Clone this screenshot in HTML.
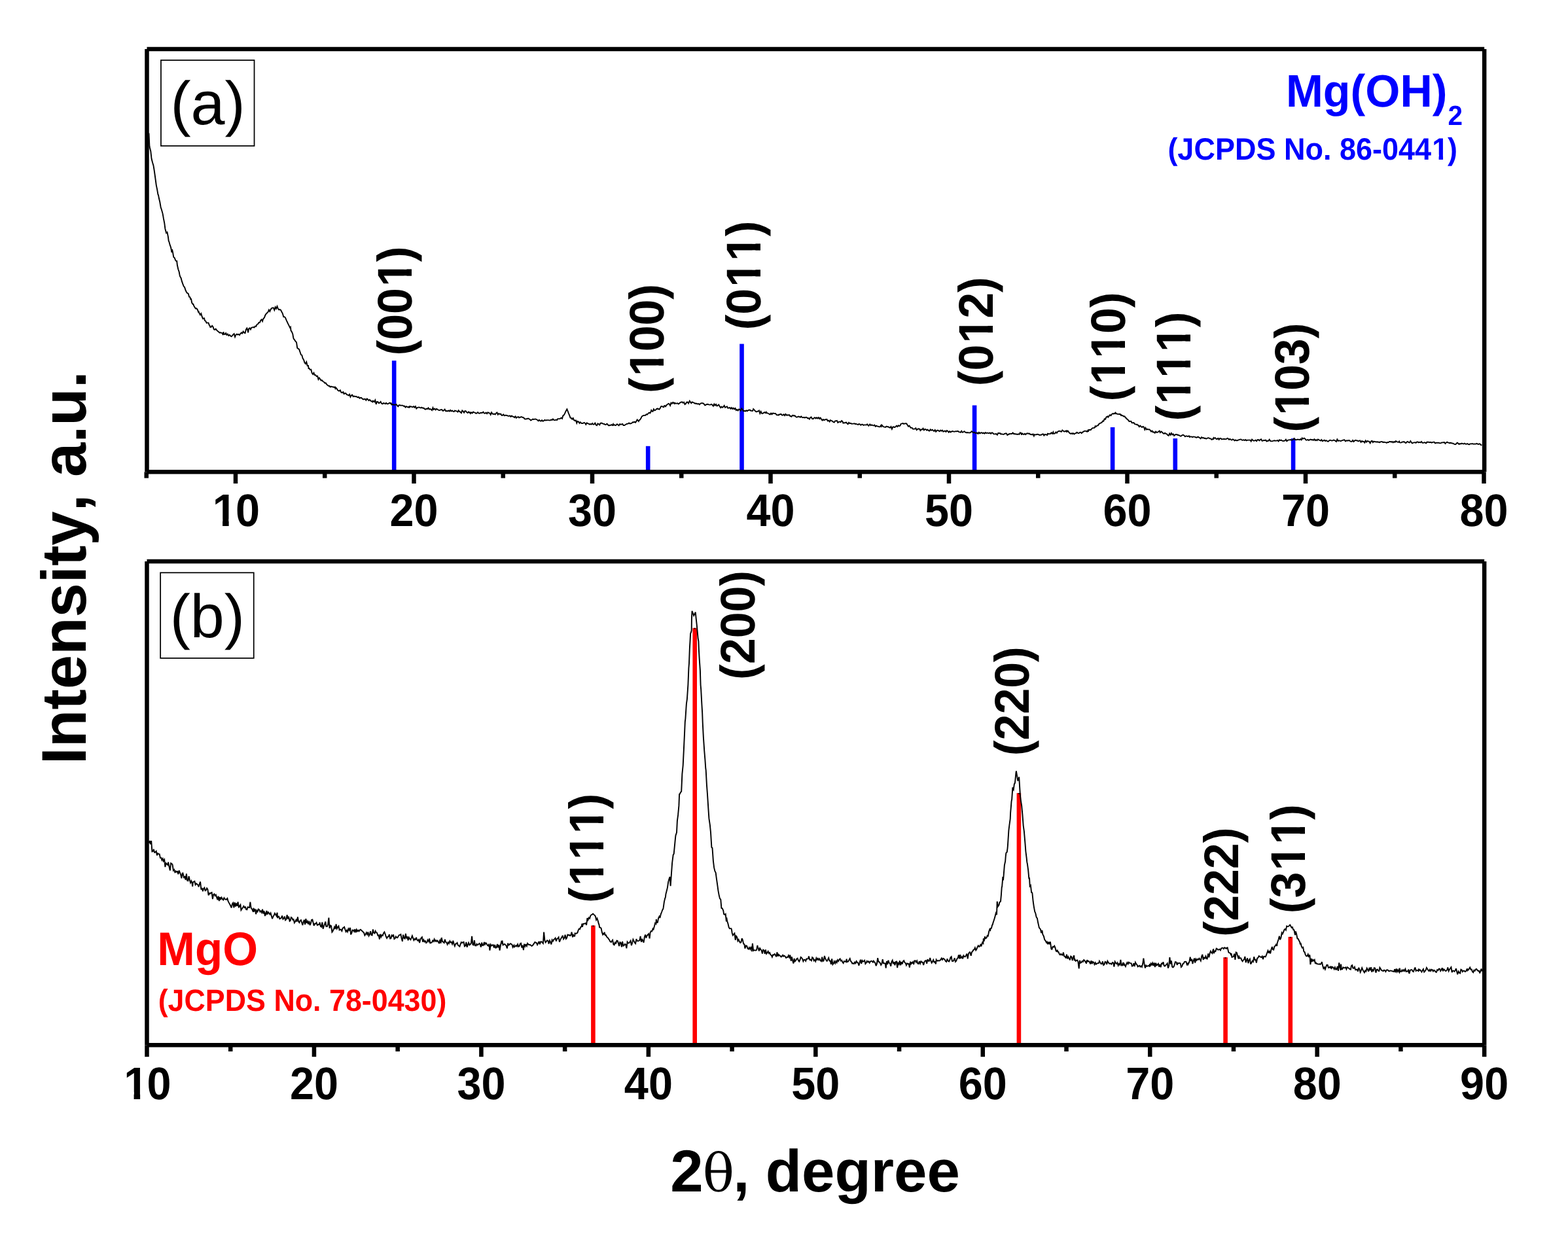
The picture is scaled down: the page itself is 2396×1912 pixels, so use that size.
<!DOCTYPE html><html><head><meta charset="utf-8"><title>XRD patterns</title><style>html,body{margin:0;padding:0;background:#fff;overflow:hidden}svg{display:block}text{font-kerning:none;font-feature-settings:"kern" 0;text-rendering:geometricPrecision}</style></head><body>
<svg width="2396" height="1912" viewBox="0 0 2396 1912">
<rect width="2396" height="1912" fill="#fff"/>
<rect x="598.9" y="551.2" width="6.6" height="170.1" fill="#0000ff"/>
<rect x="986.9" y="681.8" width="6.6" height="39.5" fill="#0000ff"/>
<rect x="1130.2" y="525.6" width="6.6" height="195.7" fill="#0000ff"/>
<rect x="1485.8" y="619.5" width="6.6" height="101.8" fill="#0000ff"/>
<rect x="1696.8" y="653.0" width="6.6" height="68.3" fill="#0000ff"/>
<rect x="1792.5" y="670.1" width="6.6" height="51.2" fill="#0000ff"/>
<rect x="1972.8" y="670.1" width="6.6" height="51.2" fill="#0000ff"/>
<rect x="903.1" y="1414.5" width="6.6" height="182.8" fill="#ff0000"/>
<rect x="905.2" y="1414.5" width="2.4" height="1.6" fill="#000"/>
<rect x="1058.4" y="959.8" width="6.6" height="637.5" fill="#ff0000"/>
<rect x="1060.5" y="959.8" width="2.4" height="1.6" fill="#000"/>
<rect x="1553.6" y="1212.1" width="6.6" height="385.2" fill="#ff0000"/>
<rect x="1555.7" y="1212.1" width="2.4" height="1.6" fill="#000"/>
<rect x="1869.3" y="1463.2" width="6.6" height="134.1" fill="#ff0000"/>
<rect x="1871.4" y="1463.2" width="2.4" height="1.6" fill="#000"/>
<rect x="1968.5" y="1431.9" width="6.6" height="165.4" fill="#ff0000"/>
<rect x="1970.6" y="1431.9" width="2.4" height="1.6" fill="#000"/>
<path d="M227.5,203.5 L228.4,223.2 L228.9,225.5 L230.3,231.2 L231.5,242.3 L233.1,248.6 L234.5,253.2 L235.7,260.5 L237.3,272.0 L238.8,283.1 L240.1,289.4 L241.5,297.6 L242.0,298.0 L242.9,303.1 L244.3,308.8 L245.7,317.0 L246.2,318.3 L247.1,321.3 L248.5,326.1 L249.3,330.3 L249.9,334.0 L251.3,341.1 L252.4,349.7 L254.1,356.0 L255.5,354.9 L256.9,361.9 L257.7,368.1 L258.3,369.3 L259.7,374.4 L261.1,378.3 L262.5,385.7 L262.9,381.0 L263.9,384.9 L265.3,392.9 L266.7,394.0 L268.1,397.7 L269.5,399.2 L270.2,399.0 L270.9,405.3 L272.3,411.5 L273.7,415.5 L274.4,419.5 L275.1,422.4 L276.5,424.7 L277.9,429.9 L279.3,433.9 L280.7,437.6 L282.1,439.1 L283.5,443.5 L284.9,446.5 L286.3,448.1 L287.7,448.7 L289.1,453.8 L290.5,454.2 L291.2,457.7 L291.9,456.3 L293.3,463.0 L294.7,465.0 L295.4,464.8 L296.1,467.2 L297.5,469.5 L298.9,471.7 L300.3,471.4 L301.7,473.0 L303.1,476.9 L303.7,476.5 L304.5,478.7 L305.9,481.2 L307.3,479.1 L308.7,483.9 L310.1,487.2 L311.5,486.5 L312.1,486.4 L312.9,489.9 L314.3,490.8 L315.7,493.6 L317.1,493.4 L318.5,493.4 L319.9,497.3 L320.5,497.5 L321.3,499.9 L322.7,499.8 L324.1,497.8 L325.5,499.4 L326.9,503.4 L328.3,503.9 L329.7,502.7 L331.0,504.5 L332.5,506.1 L333.9,506.9 L335.3,508.4 L336.7,508.3 L338.1,508.6 L339.5,509.2 L340.9,512.0 L341.4,507.3 L342.3,510.6 L343.7,511.1 L345.1,509.1 L346.5,511.9 L347.9,510.6 L349.3,513.1 L350.7,511.8 L352.1,513.2 L353.5,514.3 L354.9,513.2 L356.1,511.5 L357.7,510.2 L359.1,514.9 L360.5,511.7 L361.9,510.6 L363.3,511.6 L364.7,510.8 L366.1,512.1 L366.5,510.8 L367.5,510.2 L368.9,508.4 L370.3,509.5 L371.7,506.6 L373.1,508.5 L374.5,509.1 L375.9,503.7 L377.3,501.6 L378.7,505.6 L379.1,508.4 L380.1,502.5 L381.5,501.4 L382.9,503.5 L384.3,500.6 L385.7,500.4 L387.1,500.0 L388.5,500.6 L389.9,498.5 L391.3,498.8 L391.7,497.9 L392.7,495.9 L394.1,495.3 L395.5,492.9 L396.9,493.0 L398.3,489.8 L399.7,488.4 L401.1,491.0 L402.1,487.6 L402.5,487.0 L403.9,485.5 L405.3,481.8 L406.7,479.7 L408.4,478.0 L409.5,477.0 L410.9,473.7 L412.3,476.0 L413.7,472.8 L415.1,471.1 L416.5,470.4 L417.8,470.4 L419.3,473.9 L420.7,469.4 L422.1,471.8 L423.5,468.1 L424.9,471.8 L426.2,473.5 L427.7,473.1 L429.1,473.9 L430.5,476.8 L431.4,478.4 L431.9,479.3 L433.3,484.2 L434.7,484.2 L436.1,485.7 L437.7,489.6 L438.9,492.1 L440.3,495.2 L441.7,497.8 L443.1,500.9 L444.0,499.9 L444.5,505.1 L445.9,507.2 L447.3,510.5 L448.2,515.8 L448.7,517.8 L450.1,519.4 L451.5,521.7 L453.0,523.2 L454.3,532.0 L455.7,532.9 L457.1,533.9 L458.6,538.3 L459.9,542.1 L461.3,542.8 L462.7,547.9 L464.1,549.9 L465.5,554.2 L466.9,556.0 L468.3,553.2 L469.7,559.0 L471.1,558.9 L471.5,563.0 L472.5,563.0 L473.9,565.2 L475.3,564.8 L476.7,570.2 L478.1,572.1 L479.5,569.9 L480.8,573.3 L482.3,573.2 L483.7,575.2 L485.1,574.8 L486.5,579.8 L487.9,577.5 L489.3,579.5 L490.7,581.6 L491.9,581.2 L493.5,583.0 L494.9,583.7 L496.3,585.4 L497.7,585.3 L499.1,587.3 L500.5,588.7 L501.2,589.1 L501.9,589.8 L503.3,589.8 L504.7,591.6 L506.1,590.7 L507.5,591.4 L508.9,591.3 L510.3,591.9 L511.7,591.5 L512.4,593.8 L513.1,592.4 L514.5,593.9 L515.9,596.2 L517.3,597.3 L518.7,597.4 L519.8,596.4 L521.5,599.9 L522.9,600.3 L524.3,599.0 L525.7,602.1 L527.1,601.0 L528.5,601.2 L529.9,603.2 L531.3,603.5 L532.8,604.5 L534.1,602.7 L535.5,606.8 L536.9,604.3 L538.3,603.5 L539.7,606.2 L541.1,605.3 L542.5,606.3 L543.9,605.8 L545.3,606.6 L546.7,607.4 L548.1,606.8 L549.5,608.8 L550.9,608.0 L552.3,608.0 L553.7,609.6 L555.0,610.4 L556.5,610.0 L557.9,609.7 L559.3,611.7 L560.7,609.4 L562.1,610.5 L563.5,612.1 L564.9,610.9 L566.3,612.7 L567.7,613.0 L569.1,614.4 L569.9,612.6 L570.5,613.0 L571.9,614.3 L573.3,611.6 L574.7,617.9 L576.1,614.0 L577.5,614.2 L578.9,616.2 L580.3,615.5 L581.7,613.9 L583.1,616.8 L584.7,617.3 L585.9,616.0 L587.3,616.3 L588.7,617.2 L590.1,615.8 L591.5,617.3 L592.9,617.2 L594.3,616.3 L595.7,615.7 L597.1,617.0 L597.7,616.4 L598.5,618.5 L599.9,617.9 L601.3,618.8 L602.7,618.4 L604.1,618.8 L605.5,618.0 L607.0,619.8 L608.3,621.2 L609.7,619.2 L611.1,619.1 L612.5,619.8 L613.9,619.6 L615.3,619.6 L616.7,620.7 L618.1,620.5 L619.5,622.5 L620.9,621.2 L622.3,621.8 L623.7,622.6 L625.1,621.5 L625.5,623.4 L626.5,621.3 L627.9,621.3 L629.3,621.9 L630.7,622.3 L632.1,621.1 L633.5,622.7 L634.9,621.1 L636.3,624.5 L637.7,623.1 L639.1,622.6 L640.5,622.5 L641.9,623.2 L643.3,623.5 L644.1,622.7 L644.7,622.9 L646.1,623.8 L647.5,623.6 L648.9,625.2 L650.3,625.6 L651.7,624.6 L653.1,625.2 L654.5,623.4 L655.9,625.6 L657.3,625.1 L658.7,625.7 L660.1,627.0 L661.5,623.1 L662.6,625.9 L664.3,624.6 L665.7,626.5 L667.1,624.7 L668.5,625.7 L669.9,626.6 L671.3,627.1 L672.7,626.7 L674.1,626.0 L675.5,626.4 L676.9,628.0 L678.3,627.2 L679.7,625.6 L681.2,628.4 L682.5,628.0 L683.9,628.5 L685.3,627.4 L686.7,628.6 L688.1,626.8 L689.5,628.5 L690.9,627.5 L692.3,628.7 L693.7,629.1 L695.1,627.4 L696.5,628.2 L697.9,628.4 L699.3,629.6 L699.7,629.1 L700.7,627.3 L702.1,629.1 L703.5,629.5 L704.9,631.1 L706.3,627.4 L707.7,628.7 L709.1,630.7 L710.5,628.1 L711.9,628.4 L713.3,630.3 L714.7,631.0 L716.1,629.4 L717.5,630.8 L718.3,630.4 L718.9,631.9 L720.3,630.4 L721.7,631.5 L723.1,629.6 L724.5,630.4 L725.9,630.6 L727.3,631.9 L728.7,631.4 L730.1,630.1 L731.5,631.6 L732.9,631.8 L734.3,631.0 L735.7,630.9 L736.8,631.0 L738.5,629.6 L739.9,631.5 L741.3,631.7 L742.7,630.6 L744.1,632.3 L745.5,630.3 L746.9,631.1 L748.3,631.3 L749.7,633.8 L751.1,630.3 L752.5,632.5 L753.9,633.0 L755.4,632.5 L756.7,633.5 L758.1,631.5 L759.5,630.5 L760.9,633.7 L762.3,632.0 L763.7,633.0 L765.1,632.4 L766.5,634.8 L767.9,634.8 L769.3,633.5 L770.7,635.3 L772.1,634.7 L773.5,634.7 L773.9,635.0 L774.9,634.9 L776.3,635.9 L777.7,635.8 L779.1,635.3 L780.5,636.9 L781.9,635.5 L783.3,636.6 L784.7,636.9 L786.1,638.2 L787.5,636.5 L788.9,638.8 L790.3,637.5 L791.7,637.4 L792.5,637.1 L793.1,638.4 L794.5,638.0 L795.9,637.2 L797.3,637.3 L798.7,638.1 L800.1,638.2 L801.5,640.1 L802.9,640.6 L804.3,640.3 L805.7,640.0 L807.1,639.5 L808.5,640.2 L809.9,641.2 L811.1,642.5 L812.7,641.5 L814.1,640.5 L815.5,641.0 L816.9,640.6 L818.3,640.5 L819.7,641.2 L821.1,641.7 L822.5,643.3 L823.9,641.8 L825.3,643.2 L826.7,643.7 L828.1,642.2 L829.6,643.8 L830.9,643.0 L832.3,641.9 L833.7,642.5 L835.1,642.3 L836.5,642.1 L837.9,642.1 L839.5,642.4 L840.7,642.6 L842.1,641.3 L843.5,642.0 L844.9,640.5 L846.3,642.0 L847.7,642.3 L849.1,641.7 L850.5,641.7 L851.2,642.0 L851.9,640.4 L853.3,640.1 L854.7,640.1 L856.1,639.9 L857.5,638.6 L859.0,639.9 L860.3,635.4 L861.7,634.3 L862.9,632.4 L864.5,628.7 L865.9,626.3 L866.4,625.4 L867.3,627.5 L868.7,631.3 L870.1,634.6 L871.6,638.6 L872.9,638.9 L874.3,640.7 L875.7,639.1 L877.1,642.2 L878.5,642.9 L879.9,642.5 L881.3,646.6 L882.3,644.0 L882.7,644.4 L884.1,644.5 L885.5,646.8 L886.9,645.2 L888.3,646.9 L889.7,647.0 L891.1,646.9 L892.5,645.8 L893.9,646.6 L895.3,648.9 L896.7,646.4 L897.9,647.1 L899.5,647.7 L900.9,648.6 L902.3,648.1 L903.7,648.6 L905.1,647.0 L906.5,648.8 L907.9,648.5 L909.3,646.6 L910.7,649.5 L912.1,650.2 L913.5,647.4 L914.9,648.2 L916.3,649.4 L917.4,646.9 L919.1,646.5 L920.5,647.2 L921.9,647.9 L923.3,648.0 L924.7,649.1 L926.1,648.9 L927.5,647.6 L928.9,649.3 L930.3,650.5 L931.7,650.0 L933.1,649.9 L934.5,649.1 L935.9,650.0 L936.9,648.3 L937.3,649.9 L938.7,649.1 L940.1,650.2 L941.5,649.6 L942.9,648.2 L944.3,649.3 L945.7,650.3 L947.1,648.2 L948.5,648.7 L949.9,648.5 L951.3,647.9 L952.5,650.1 L954.1,650.0 L955.5,649.2 L956.9,648.3 L958.3,647.7 L959.7,647.6 L961.1,646.4 L962.5,647.5 L963.9,647.3 L965.3,646.8 L966.7,645.2 L968.1,645.4 L969.5,644.6 L970.9,645.9 L972.3,643.9 L973.7,641.4 L975.1,643.0 L975.9,644.0 L976.5,642.5 L977.9,641.5 L979.3,639.6 L980.7,636.6 L982.1,635.6 L983.5,635.0 L984.9,634.9 L985.6,634.8 L986.3,634.8 L987.7,633.1 L989.1,633.7 L990.5,631.8 L991.9,630.7 L993.3,631.5 L994.7,629.1 L995.3,627.0 L996.1,628.3 L997.5,628.9 L998.9,625.2 L1000.3,627.3 L1001.7,626.8 L1003.1,625.1 L1004.5,624.5 L1005.1,625.3 L1005.9,624.8 L1007.3,625.8 L1008.7,624.0 L1010.1,621.1 L1011.5,621.0 L1012.9,621.8 L1014.3,622.2 L1014.8,620.3 L1015.7,620.0 L1017.1,621.3 L1018.5,619.0 L1019.9,618.3 L1021.3,616.8 L1022.7,617.4 L1024.1,619.9 L1025.5,615.7 L1026.9,616.9 L1028.3,615.0 L1029.7,616.3 L1030.4,617.0 L1031.1,615.7 L1032.5,616.7 L1033.9,616.6 L1035.3,616.2 L1036.7,617.5 L1038.1,616.4 L1039.5,615.2 L1040.9,614.7 L1042.3,614.4 L1043.7,615.8 L1045.1,614.8 L1046.5,618.1 L1047.9,617.0 L1049.3,614.7 L1050.7,614.5 L1052.1,616.6 L1053.8,612.7 L1054.9,614.4 L1056.3,616.2 L1057.7,614.4 L1059.1,615.1 L1060.5,615.5 L1061.9,616.8 L1063.3,616.5 L1064.7,617.0 L1066.1,617.4 L1067.5,617.1 L1068.9,618.4 L1070.3,616.7 L1071.7,616.2 L1073.3,616.1 L1074.5,616.4 L1075.9,617.7 L1077.3,619.5 L1078.7,618.7 L1080.1,618.0 L1081.5,617.7 L1082.9,618.4 L1084.3,618.6 L1085.7,618.6 L1087.1,617.8 L1088.5,619.0 L1089.9,620.7 L1091.3,617.5 L1092.7,619.6 L1094.1,617.9 L1095.5,620.5 L1096.9,619.8 L1098.3,618.6 L1099.7,621.1 L1101.1,623.1 L1102.5,621.5 L1103.9,622.8 L1105.3,621.8 L1106.7,619.8 L1108.1,622.8 L1109.5,622.0 L1110.9,621.2 L1112.2,623.7 L1113.7,623.5 L1115.1,622.9 L1116.5,624.7 L1117.9,623.1 L1119.3,625.0 L1120.7,623.6 L1122.1,625.4 L1123.5,624.0 L1124.9,627.0 L1126.3,626.0 L1127.7,627.5 L1129.1,625.4 L1130.5,626.1 L1131.7,627.7 L1133.3,624.2 L1134.7,626.0 L1136.1,628.3 L1137.5,627.8 L1138.9,628.5 L1140.3,627.3 L1141.7,628.3 L1143.1,627.2 L1144.5,626.7 L1145.9,626.5 L1147.3,627.8 L1148.7,627.9 L1150.1,628.0 L1151.2,625.1 L1152.9,626.9 L1154.3,628.5 L1155.7,629.5 L1157.1,628.8 L1158.5,628.7 L1159.9,627.4 L1161.3,631.9 L1162.7,629.0 L1164.1,631.9 L1165.5,632.0 L1166.9,630.8 L1168.3,630.1 L1169.7,631.0 L1170.7,629.8 L1171.1,631.3 L1172.5,631.2 L1173.9,632.0 L1175.3,632.6 L1176.7,633.5 L1178.1,631.6 L1179.5,633.2 L1180.9,631.6 L1182.3,631.7 L1183.7,632.1 L1185.1,632.0 L1186.5,634.1 L1187.9,634.2 L1189.3,634.7 L1190.1,633.6 L1190.7,633.9 L1192.1,633.2 L1193.5,632.8 L1194.9,634.5 L1196.3,634.5 L1197.7,633.3 L1199.1,635.1 L1200.5,632.9 L1201.9,634.6 L1203.3,634.3 L1204.7,634.5 L1206.1,634.1 L1207.5,636.2 L1208.9,636.0 L1209.6,636.7 L1210.3,635.7 L1211.7,634.6 L1213.1,635.7 L1214.5,635.1 L1215.9,636.9 L1217.3,637.8 L1218.7,637.2 L1220.1,636.5 L1221.5,636.9 L1222.9,637.7 L1224.3,636.3 L1225.7,638.0 L1227.1,638.3 L1228.5,637.8 L1229.1,638.0 L1229.9,638.6 L1231.3,637.8 L1232.7,637.9 L1234.1,639.5 L1235.5,639.1 L1236.9,640.6 L1238.3,638.1 L1239.7,637.5 L1241.1,640.2 L1242.5,640.3 L1243.9,638.8 L1245.3,638.2 L1246.7,639.6 L1248.1,638.1 L1249.5,639.6 L1250.9,638.0 L1252.3,640.1 L1253.7,638.6 L1255.1,640.6 L1256.5,642.5 L1257.9,641.0 L1259.3,642.2 L1260.7,641.2 L1262.1,641.2 L1263.5,640.8 L1264.9,643.4 L1266.3,642.7 L1267.7,644.5 L1269.0,642.1 L1270.5,643.2 L1271.9,643.6 L1273.3,645.0 L1274.7,645.6 L1276.1,643.5 L1277.5,643.3 L1278.9,642.9 L1280.3,645.9 L1281.7,644.8 L1283.1,644.4 L1284.5,645.2 L1285.9,643.1 L1287.3,644.0 L1288.4,646.6 L1290.1,646.3 L1291.5,646.3 L1292.9,645.4 L1294.3,647.0 L1295.7,648.3 L1297.1,645.8 L1298.5,647.1 L1299.9,646.8 L1301.3,647.7 L1302.7,647.6 L1304.1,647.6 L1305.5,647.2 L1306.9,648.1 L1307.9,647.7 L1308.3,648.1 L1309.7,648.3 L1311.1,649.1 L1312.5,648.1 L1313.9,648.4 L1315.3,649.7 L1316.7,648.7 L1318.1,648.7 L1319.5,649.9 L1320.9,649.4 L1322.3,649.4 L1323.7,649.6 L1325.1,648.4 L1326.5,650.0 L1327.4,650.8 L1327.9,650.2 L1329.3,648.5 L1330.7,650.2 L1332.1,649.3 L1333.5,650.1 L1334.9,650.5 L1336.3,649.5 L1337.7,651.8 L1339.1,650.7 L1340.5,651.6 L1341.9,651.6 L1343.3,652.4 L1344.7,652.4 L1346.1,650.2 L1346.9,651.6 L1347.5,649.7 L1348.9,651.3 L1350.3,652.4 L1351.7,652.6 L1353.1,653.0 L1354.5,651.6 L1355.9,652.3 L1357.3,652.2 L1358.7,653.3 L1360.1,653.6 L1361.5,652.0 L1362.9,655.7 L1364.3,652.5 L1365.7,652.2 L1366.4,653.1 L1367.1,653.0 L1368.5,652.3 L1369.9,650.7 L1371.3,652.1 L1372.7,650.3 L1374.1,651.1 L1375.5,650.5 L1376.9,647.6 L1378.1,647.4 L1379.7,647.0 L1381.1,647.9 L1382.5,647.4 L1383.9,647.3 L1385.3,647.5 L1386.7,649.8 L1388.1,651.8 L1389.5,650.6 L1390.9,652.8 L1391.7,653.8 L1392.3,653.6 L1393.7,653.8 L1395.1,655.7 L1396.5,655.6 L1397.9,655.5 L1399.3,654.3 L1400.7,657.2 L1402.1,655.8 L1403.5,655.3 L1404.9,655.7 L1405.3,655.7 L1406.3,658.0 L1407.7,656.5 L1409.1,656.5 L1410.5,654.8 L1411.9,657.4 L1413.3,656.0 L1414.7,656.1 L1416.1,657.7 L1417.5,656.6 L1418.9,658.2 L1420.3,658.6 L1421.7,656.3 L1423.1,657.8 L1424.8,656.8 L1425.9,658.1 L1427.3,659.0 L1428.7,657.1 L1430.1,659.8 L1431.5,658.1 L1432.9,657.5 L1434.3,658.4 L1435.7,659.3 L1437.1,657.5 L1438.5,658.7 L1439.9,657.6 L1441.3,659.8 L1442.7,659.0 L1444.3,658.6 L1445.5,659.9 L1446.9,658.0 L1448.3,658.9 L1449.7,660.8 L1451.1,659.2 L1452.5,660.5 L1453.9,659.6 L1455.3,659.0 L1456.7,659.4 L1458.1,659.8 L1459.5,659.4 L1460.9,659.2 L1462.3,659.3 L1463.8,658.8 L1465.1,660.1 L1466.5,660.4 L1467.9,660.8 L1469.3,658.7 L1470.7,660.9 L1472.1,660.3 L1473.5,659.2 L1474.9,660.5 L1476.3,661.2 L1477.7,661.0 L1479.1,661.2 L1480.5,661.4 L1481.9,661.5 L1483.3,660.8 L1484.7,659.2 L1486.1,660.3 L1487.5,661.3 L1488.9,660.7 L1490.3,661.8 L1491.7,662.0 L1493.1,661.4 L1494.5,663.0 L1495.9,660.8 L1497.3,662.4 L1498.7,661.4 L1500.1,661.2 L1501.5,662.4 L1502.7,661.5 L1504.3,662.7 L1505.7,661.1 L1507.1,662.2 L1508.5,661.5 L1509.9,662.1 L1511.3,662.0 L1512.7,661.4 L1514.1,662.9 L1515.5,661.4 L1516.9,661.7 L1518.3,663.3 L1519.7,663.4 L1521.1,663.2 L1522.2,663.0 L1523.9,664.6 L1525.3,661.8 L1526.7,662.2 L1528.1,662.1 L1529.5,663.6 L1530.9,663.2 L1532.3,663.9 L1533.7,663.8 L1535.1,662.9 L1536.5,662.5 L1537.9,662.4 L1539.3,665.0 L1540.7,664.0 L1541.7,663.8 L1542.1,663.0 L1543.5,663.1 L1544.9,663.0 L1546.3,663.0 L1547.7,661.4 L1549.1,663.2 L1550.5,663.0 L1551.9,663.5 L1553.3,663.5 L1554.7,664.0 L1556.1,663.3 L1557.5,663.9 L1558.9,661.2 L1560.3,662.4 L1561.2,664.7 L1561.7,662.3 L1563.1,663.2 L1564.5,664.0 L1565.9,662.8 L1567.3,664.2 L1568.7,662.5 L1570.1,662.2 L1571.5,662.8 L1572.9,662.6 L1574.3,663.9 L1575.7,663.8 L1577.1,664.4 L1578.5,663.4 L1579.9,666.3 L1580.7,664.2 L1581.3,664.2 L1582.7,664.6 L1584.1,664.0 L1585.5,663.7 L1586.9,664.2 L1588.3,664.9 L1589.7,664.6 L1591.1,664.8 L1592.5,663.6 L1593.9,663.4 L1595.3,665.6 L1596.7,663.8 L1598.1,664.3 L1599.5,664.5 L1600.2,665.0 L1600.9,662.7 L1602.3,663.2 L1603.7,663.1 L1605.1,663.0 L1606.5,661.2 L1607.9,662.9 L1609.3,660.4 L1609.9,662.9 L1610.7,662.9 L1612.1,662.4 L1613.5,660.5 L1614.9,661.8 L1616.3,659.8 L1617.7,659.0 L1619.1,658.8 L1619.6,658.7 L1620.5,659.5 L1621.9,659.9 L1623.3,657.4 L1624.7,658.6 L1626.1,659.7 L1627.5,659.1 L1628.9,659.2 L1629.4,657.5 L1630.3,659.9 L1631.7,658.4 L1633.1,660.4 L1634.5,662.0 L1635.9,662.9 L1637.3,662.4 L1638.7,663.2 L1639.1,662.2 L1640.1,662.2 L1641.5,663.4 L1642.9,662.3 L1644.3,662.0 L1645.7,660.8 L1647.1,661.9 L1648.5,662.2 L1650.0,660.9 L1651.3,660.8 L1652.7,662.1 L1654.1,660.6 L1655.5,659.9 L1656.9,658.8 L1658.3,658.9 L1659.7,658.8 L1661.1,659.8 L1662.5,657.8 L1663.0,659.7 L1663.9,657.0 L1665.3,656.8 L1666.7,657.1 L1668.1,655.4 L1669.5,654.2 L1670.9,654.1 L1672.3,653.9 L1673.7,651.4 L1674.2,652.4 L1675.1,651.8 L1676.5,650.4 L1677.9,650.3 L1679.3,648.0 L1680.7,647.1 L1682.1,646.3 L1683.5,645.9 L1684.9,643.6 L1686.3,643.8 L1687.7,640.2 L1689.1,640.8 L1690.5,637.4 L1691.9,636.6 L1692.8,636.3 L1693.3,637.7 L1694.7,636.0 L1696.1,634.1 L1697.5,635.2 L1698.9,633.1 L1700.3,632.0 L1701.7,632.6 L1703.1,631.7 L1704.0,632.2 L1704.5,630.8 L1705.9,632.2 L1707.3,632.8 L1708.7,632.9 L1710.1,633.0 L1711.5,632.8 L1712.9,634.8 L1713.3,634.1 L1714.3,635.1 L1715.7,635.2 L1717.1,636.4 L1718.5,636.2 L1719.9,638.2 L1720.7,639.3 L1721.3,639.2 L1722.7,641.2 L1724.1,641.9 L1725.5,644.1 L1726.9,643.9 L1728.2,643.7 L1729.7,646.2 L1731.1,646.2 L1732.5,646.0 L1733.9,648.1 L1735.3,648.3 L1736.7,649.0 L1737.5,648.6 L1738.1,649.4 L1739.5,650.1 L1740.9,652.2 L1742.3,650.7 L1743.7,652.0 L1745.1,653.0 L1746.5,651.9 L1747.9,652.7 L1749.3,656.6 L1750.5,653.9 L1752.1,656.5 L1753.5,655.9 L1754.9,656.6 L1756.3,656.2 L1757.7,657.6 L1759.1,659.6 L1760.5,658.4 L1761.6,660.5 L1763.3,660.3 L1764.7,661.7 L1766.1,659.6 L1767.5,661.0 L1768.9,660.7 L1770.3,659.8 L1771.7,658.6 L1772.8,661.2 L1774.5,659.5 L1775.9,660.7 L1777.3,662.2 L1778.7,662.9 L1780.1,661.8 L1781.5,662.9 L1782.9,663.2 L1784.0,664.7 L1785.7,665.9 L1787.1,662.5 L1788.5,664.8 L1789.9,661.9 L1791.3,664.3 L1792.7,663.4 L1794.1,666.0 L1795.5,664.6 L1796.9,664.0 L1798.3,664.3 L1798.9,664.2 L1799.7,665.0 L1801.1,664.9 L1802.5,665.8 L1803.9,666.7 L1805.3,666.2 L1806.7,664.9 L1808.1,664.8 L1809.5,665.7 L1810.9,667.3 L1812.3,666.5 L1813.7,666.4 L1815.1,667.2 L1816.5,666.3 L1817.5,666.6 L1817.9,667.9 L1819.3,667.4 L1820.7,667.4 L1822.1,668.1 L1823.5,667.5 L1824.9,667.6 L1826.3,667.9 L1827.7,668.8 L1829.1,668.5 L1830.5,667.6 L1831.9,668.4 L1833.3,669.3 L1834.7,670.3 L1836.1,668.1 L1837.5,669.4 L1838.9,669.0 L1840.3,669.9 L1841.7,669.7 L1843.1,670.6 L1844.5,670.0 L1845.9,669.3 L1847.3,669.4 L1848.7,670.2 L1850.1,670.3 L1851.5,671.9 L1852.9,671.4 L1854.3,669.4 L1854.7,670.6 L1855.7,669.3 L1857.1,669.2 L1858.5,671.0 L1859.9,671.0 L1861.3,669.8 L1862.7,671.9 L1864.1,670.0 L1865.5,670.0 L1866.9,671.4 L1868.3,671.1 L1869.7,670.9 L1871.1,671.0 L1872.5,671.3 L1873.3,671.1 L1873.9,671.1 L1875.3,669.9 L1876.7,670.4 L1878.1,671.9 L1879.5,671.0 L1880.9,672.0 L1882.3,672.6 L1883.7,671.4 L1885.1,672.0 L1886.5,673.4 L1887.9,672.4 L1889.3,673.3 L1890.7,673.2 L1891.9,672.7 L1893.5,672.1 L1894.9,671.6 L1896.3,671.4 L1897.7,672.6 L1899.1,672.7 L1900.5,672.2 L1901.9,673.0 L1903.3,672.0 L1904.7,673.3 L1906.1,672.6 L1907.5,672.6 L1908.9,672.6 L1910.5,672.6 L1911.7,674.5 L1913.1,671.6 L1914.5,672.9 L1915.9,673.7 L1917.3,673.4 L1918.7,672.7 L1920.1,674.2 L1921.5,672.2 L1922.9,672.0 L1924.3,673.4 L1925.7,672.0 L1927.1,671.3 L1928.5,673.7 L1929.1,673.7 L1929.9,673.6 L1931.3,672.8 L1932.7,673.3 L1934.1,672.5 L1935.5,674.5 L1936.9,673.8 L1938.3,673.8 L1939.7,671.8 L1941.1,673.9 L1942.5,674.4 L1943.9,674.2 L1945.3,673.9 L1946.7,673.4 L1947.7,673.2 L1948.1,673.8 L1949.5,673.6 L1950.9,673.5 L1952.3,673.0 L1953.7,674.4 L1955.1,672.3 L1956.5,673.1 L1957.9,672.6 L1959.3,673.7 L1960.7,674.0 L1962.1,673.8 L1963.5,673.4 L1964.9,671.7 L1966.3,674.2 L1967.7,673.0 L1969.1,672.4 L1970.5,672.4 L1971.9,672.1 L1973.3,672.6 L1974.7,672.4 L1976.1,671.8 L1977.5,670.1 L1978.9,671.9 L1980.3,672.2 L1981.7,672.1 L1983.1,671.5 L1984.5,671.9 L1985.9,672.2 L1987.3,671.0 L1988.7,672.4 L1989.7,669.7 L1990.1,670.3 L1991.5,670.6 L1992.9,669.6 L1994.3,670.7 L1995.7,672.5 L1997.1,672.6 L1998.5,671.8 L1999.9,673.1 L2001.3,672.1 L2002.7,671.6 L2004.1,672.3 L2005.5,672.1 L2006.9,672.8 L2008.3,671.2 L2009.7,673.1 L2011.1,672.2 L2012.5,673.2 L2013.9,671.5 L2015.3,672.4 L2016.7,672.9 L2018.1,673.6 L2019.4,672.1 L2020.9,674.2 L2022.3,673.4 L2023.7,672.7 L2025.1,674.0 L2026.5,673.2 L2027.9,674.0 L2029.3,674.8 L2030.7,673.7 L2032.1,672.8 L2033.5,672.9 L2034.9,673.6 L2036.3,673.4 L2037.7,672.6 L2039.1,672.8 L2040.5,673.8 L2041.9,675.0 L2043.3,671.4 L2044.7,673.9 L2046.1,673.2 L2047.5,673.9 L2049.0,674.0 L2050.3,673.5 L2051.7,672.8 L2053.1,672.5 L2054.5,672.2 L2055.9,674.5 L2057.3,673.5 L2058.7,673.3 L2060.1,673.6 L2061.5,672.9 L2062.9,674.1 L2064.3,674.9 L2065.7,674.8 L2067.1,672.9 L2068.5,675.0 L2069.9,673.6 L2071.3,672.8 L2072.7,673.3 L2074.1,673.5 L2075.5,674.3 L2076.9,673.6 L2078.3,673.3 L2078.7,674.2 L2079.7,675.8 L2081.1,674.0 L2082.5,674.9 L2083.9,674.7 L2085.3,676.6 L2086.7,673.4 L2088.1,675.6 L2089.5,673.9 L2090.9,674.5 L2092.3,674.9 L2093.7,677.3 L2095.1,674.5 L2096.5,673.8 L2097.9,676.1 L2099.3,674.6 L2100.7,675.1 L2102.1,675.3 L2103.5,675.5 L2104.9,675.3 L2106.3,675.7 L2107.7,675.8 L2108.4,676.2 L2109.1,675.3 L2110.5,675.1 L2111.9,674.9 L2113.3,676.1 L2114.7,675.6 L2116.1,676.1 L2117.5,676.1 L2118.9,676.9 L2120.3,675.9 L2121.7,676.3 L2123.1,674.9 L2124.5,675.0 L2125.9,675.6 L2127.3,674.9 L2128.7,676.3 L2130.1,674.9 L2131.5,675.9 L2132.9,674.1 L2134.3,675.1 L2135.7,675.6 L2137.1,675.7 L2138.1,674.6 L2138.5,676.0 L2139.9,676.6 L2141.3,676.4 L2142.7,675.5 L2144.1,675.5 L2145.5,675.1 L2146.9,676.4 L2148.3,677.0 L2149.7,675.6 L2151.1,674.8 L2152.5,676.1 L2153.9,676.5 L2155.3,674.1 L2156.7,676.1 L2158.1,677.6 L2159.5,676.6 L2160.9,676.4 L2162.3,676.3 L2163.7,676.8 L2165.1,675.4 L2166.5,675.5 L2167.8,676.4 L2169.3,675.7 L2170.7,676.4 L2172.1,674.9 L2173.5,676.8 L2174.9,676.9 L2176.3,676.3 L2177.7,676.4 L2179.1,677.5 L2180.5,675.6 L2181.9,675.8 L2183.3,675.7 L2184.7,676.2 L2186.1,675.8 L2187.5,676.6 L2188.9,676.1 L2190.3,675.6 L2191.7,675.6 L2193.1,677.5 L2194.5,676.7 L2195.9,676.6 L2197.5,676.8 L2198.7,676.8 L2200.1,677.4 L2201.5,677.3 L2202.9,676.5 L2204.3,676.4 L2205.7,676.2 L2207.1,676.1 L2208.5,678.0 L2209.9,676.4 L2211.3,675.7 L2212.7,676.5 L2214.1,676.6 L2215.5,677.4 L2216.9,676.6 L2218.3,677.6 L2219.7,677.5 L2221.1,678.2 L2222.5,678.8 L2223.9,679.3 L2225.3,678.3 L2226.7,676.6 L2227.2,677.1 L2228.1,677.6 L2229.5,679.0 L2230.9,678.1 L2232.3,678.5 L2233.7,677.6 L2235.1,678.2 L2236.5,678.4 L2237.9,677.6 L2239.3,678.6 L2240.7,678.8 L2242.1,678.0 L2243.5,678.9 L2244.9,679.4 L2246.3,678.4 L2247.7,678.4 L2249.1,678.3 L2250.5,678.2 L2251.9,678.8 L2253.3,678.4 L2254.7,678.6 L2256.1,678.3 L2256.8,677.8 L2257.5,678.3 L2258.9,679.2 L2260.3,678.3 L2261.7,678.7 L2263.1,680.3 L2264.5,680.1" fill="none" stroke="#000" stroke-width="1.9" stroke-linejoin="miter" stroke-miterlimit="3"/>
<path d="M227.4,1288.5 L228.7,1285.0 L229.9,1290.2 L231.2,1285.0 L232.4,1301.6 L233.7,1301.2 L234.8,1297.9 L236.2,1303.0 L237.4,1302.5 L238.7,1300.9 L239.9,1307.4 L241.2,1304.2 L242.3,1305.3 L243.7,1305.4 L244.9,1311.2 L246.2,1310.9 L247.4,1314.6 L248.7,1312.3 L249.7,1316.1 L251.2,1313.8 L252.4,1325.1 L253.7,1319.3 L254.9,1320.7 L256.1,1321.9 L257.1,1317.8 L258.6,1325.1 L259.9,1330.4 L261.1,1319.2 L262.4,1319.9 L263.6,1321.7 L264.9,1330.5 L266.1,1329.2 L267.4,1333.4 L268.2,1332.9 L268.6,1331.5 L269.9,1332.6 L271.1,1331.9 L272.4,1336.1 L273.6,1330.4 L274.9,1333.6 L276.1,1336.5 L277.4,1342.4 L278.6,1334.9 L279.4,1334.4 L279.9,1336.4 L281.1,1342.1 L282.4,1339.0 L283.6,1344.8 L284.9,1335.3 L286.1,1345.8 L287.4,1346.3 L288.6,1339.2 L289.9,1345.0 L291.1,1349.2 L292.4,1346.3 L293.6,1350.0 L294.2,1354.8 L294.9,1348.5 L296.1,1347.6 L297.4,1346.9 L298.6,1352.2 L299.9,1350.4 L301.1,1351.3 L302.4,1352.3 L303.6,1355.5 L304.9,1351.0 L305.3,1349.8 L306.1,1347.5 L307.4,1359.7 L308.6,1356.9 L309.9,1362.2 L311.1,1358.2 L312.4,1356.7 L313.6,1361.3 L314.9,1360.4 L316.1,1357.5 L317.4,1359.4 L318.6,1368.4 L320.2,1365.0 L321.1,1365.8 L322.4,1364.5 L323.6,1364.1 L324.9,1374.1 L326.1,1367.5 L327.4,1366.4 L328.6,1369.1 L329.9,1367.6 L331.3,1371.9 L332.4,1375.2 L333.6,1369.7 L334.9,1377.1 L336.1,1371.2 L337.4,1374.2 L338.6,1371.7 L339.9,1374.1 L341.1,1375.4 L342.4,1372.3 L343.6,1374.1 L344.9,1374.7 L346.1,1374.7 L347.4,1373.0 L348.6,1377.4 L349.9,1379.9 L351.1,1381.9 L352.4,1384.7 L353.6,1387.5 L354.9,1381.7 L356.1,1379.9 L357.4,1387.3 L358.6,1379.1 L359.9,1385.6 L361.1,1380.4 L362.4,1384.8 L363.6,1378.5 L364.9,1387.4 L366.1,1384.8 L367.4,1382.9 L368.4,1391.1 L369.9,1388.8 L371.1,1386.9 L372.4,1384.8 L373.6,1387.1 L374.9,1386.2 L376.1,1389.9 L377.4,1390.3 L378.6,1386.3 L379.9,1386.9 L381.1,1387.2 L382.4,1378.7 L383.6,1387.5 L384.9,1389.2 L386.1,1391.8 L387.0,1393.8 L387.4,1387.7 L388.6,1392.0 L389.9,1389.5 L391.1,1397.2 L392.4,1391.4 L393.6,1393.3 L394.9,1389.5 L396.1,1390.3 L397.4,1393.6 L398.6,1392.3 L399.9,1394.8 L401.1,1389.6 L402.4,1396.4 L403.6,1392.3 L404.9,1400.2 L405.5,1394.6 L406.1,1398.8 L407.4,1392.0 L408.6,1397.6 L409.9,1394.2 L411.1,1395.7 L412.4,1397.5 L413.6,1395.5 L414.9,1400.2 L416.1,1404.2 L417.4,1400.8 L418.6,1399.1 L419.9,1395.9 L421.1,1397.8 L422.4,1399.9 L423.6,1394.8 L424.1,1403.1 L424.9,1400.5 L426.1,1400.7 L427.4,1404.4 L428.6,1403.8 L429.9,1402.8 L431.1,1399.6 L432.4,1404.9 L433.6,1403.9 L434.9,1400.7 L436.1,1406.4 L437.4,1405.1 L438.6,1398.3 L439.9,1404.5 L441.1,1400.8 L442.6,1407.9 L443.6,1407.2 L444.9,1402.1 L446.1,1402.9 L447.4,1405.9 L448.6,1405.2 L449.9,1410.4 L451.1,1408.5 L452.4,1405.9 L453.6,1408.5 L454.9,1401.5 L456.1,1408.3 L457.4,1410.1 L458.6,1407.4 L459.9,1406.2 L461.2,1410.0 L462.4,1414.1 L463.6,1409.3 L464.9,1405.8 L466.1,1413.2 L467.4,1404.1 L468.6,1410.9 L469.9,1408.1 L471.1,1412.5 L472.4,1407.7 L473.6,1414.0 L474.9,1411.3 L476.1,1405.9 L477.4,1405.4 L478.6,1410.2 L479.7,1414.8 L481.1,1411.8 L482.4,1411.8 L483.6,1410.1 L484.9,1414.0 L486.1,1413.2 L487.4,1413.1 L488.6,1409.8 L489.9,1416.0 L491.1,1416.7 L492.4,1409.5 L493.6,1419.6 L494.9,1415.5 L496.1,1412.3 L497.4,1408.6 L498.3,1415.8 L499.9,1416.0 L501.1,1413.2 L502.4,1402.5 L503.6,1418.7 L504.9,1414.4 L506.1,1415.1 L507.4,1424.5 L508.6,1422.9 L509.9,1420.1 L511.1,1416.7 L512.4,1420.0 L513.6,1412.5 L514.9,1419.3 L516.1,1417.3 L516.8,1416.1 L517.4,1415.4 L518.6,1421.4 L519.9,1420.5 L521.1,1420.9 L522.4,1423.0 L523.6,1418.7 L524.9,1417.9 L526.1,1416.7 L527.4,1420.8 L528.6,1424.0 L529.9,1421.8 L531.1,1424.2 L532.4,1419.5 L533.6,1421.7 L534.9,1417.9 L535.4,1420.0 L536.1,1428.4 L537.4,1425.8 L538.6,1421.6 L539.9,1421.7 L541.1,1423.7 L542.4,1420.1 L543.6,1425.3 L544.9,1420.8 L546.1,1423.4 L547.4,1421.7 L548.6,1423.3 L549.9,1421.2 L551.1,1420.6 L552.4,1422.4 L553.9,1423.3 L554.9,1424.5 L556.1,1425.6 L557.4,1429.7 L558.6,1428.0 L559.9,1425.3 L561.1,1428.1 L562.4,1424.5 L563.6,1430.4 L564.9,1428.2 L566.1,1423.3 L567.4,1429.1 L568.6,1429.5 L569.9,1420.4 L571.1,1425.7 L572.5,1426.6 L573.6,1422.9 L574.9,1425.3 L576.1,1425.8 L577.4,1429.7 L578.6,1429.3 L579.9,1435.6 L581.1,1427.7 L582.4,1432.0 L583.6,1429.2 L584.9,1429.9 L586.1,1426.2 L587.4,1424.4 L588.6,1427.5 L589.9,1431.7 L591.1,1434.0 L592.4,1431.6 L593.6,1431.5 L594.9,1428.1 L596.1,1434.5 L597.4,1434.2 L598.6,1429.4 L599.9,1430.9 L601.1,1428.5 L602.4,1435.2 L603.6,1434.3 L604.9,1431.4 L606.1,1432.9 L607.4,1433.1 L608.6,1431.1 L609.9,1429.1 L611.1,1429.1 L612.4,1428.1 L613.6,1434.0 L614.9,1438.8 L616.1,1428.7 L617.4,1433.7 L618.6,1434.6 L619.9,1427.0 L621.1,1434.3 L622.4,1431.1 L623.6,1437.2 L624.9,1432.7 L626.1,1434.7 L627.4,1436.3 L628.6,1433.6 L629.9,1430.2 L631.1,1433.6 L632.4,1437.1 L633.6,1435.1 L634.9,1436.0 L636.1,1432.8 L637.1,1436.1 L638.6,1437.7 L639.9,1436.1 L641.1,1441.0 L642.4,1435.7 L643.6,1433.6 L644.9,1432.3 L646.1,1439.5 L647.4,1436.5 L648.6,1439.4 L649.9,1438.1 L651.1,1441.2 L652.4,1440.4 L653.6,1436.3 L654.9,1438.1 L655.7,1440.3 L656.1,1434.4 L657.4,1441.4 L658.6,1440.9 L659.9,1440.5 L661.1,1437.5 L662.4,1439.0 L663.6,1435.5 L664.9,1438.6 L666.1,1437.1 L667.4,1438.9 L668.6,1437.6 L669.9,1439.7 L671.1,1442.1 L672.4,1435.9 L673.6,1441.7 L674.2,1434.3 L674.9,1433.9 L676.1,1439.3 L677.4,1439.7 L678.6,1441.0 L679.9,1435.7 L681.1,1439.9 L682.4,1440.5 L683.6,1443.5 L684.9,1440.2 L686.1,1441.9 L687.4,1438.2 L688.6,1440.3 L689.9,1439.8 L691.1,1442.8 L692.4,1438.6 L692.8,1439.1 L693.6,1442.8 L694.9,1446.0 L696.1,1442.5 L697.4,1442.4 L698.6,1440.9 L699.9,1444.7 L701.1,1445.6 L702.4,1446.6 L703.6,1443.2 L704.9,1440.0 L706.1,1441.1 L707.4,1440.2 L708.6,1439.7 L709.9,1446.2 L711.3,1445.1 L712.4,1440.0 L713.6,1447.7 L714.9,1443.9 L716.1,1440.9 L717.4,1444.4 L718.6,1443.3 L719.9,1441.6 L721.1,1430.8 L722.4,1443.7 L723.6,1444.4 L724.9,1437.2 L726.1,1445.2 L727.4,1445.4 L728.6,1442.8 L729.9,1444.3 L731.1,1443.4 L732.4,1442.0 L733.6,1443.3 L734.9,1447.6 L736.1,1440.6 L737.4,1445.0 L738.6,1444.9 L739.9,1439.9 L741.1,1443.4 L742.4,1441.1 L743.6,1442.5 L744.9,1444.8 L746.1,1445.6 L747.4,1442.6 L748.4,1452.6 L749.9,1443.5 L751.1,1445.4 L752.4,1444.5 L753.6,1444.2 L754.9,1448.5 L756.1,1444.1 L757.4,1448.7 L758.6,1448.3 L759.9,1442.9 L761.1,1448.2 L762.4,1444.0 L763.6,1452.6 L764.9,1444.8 L766.1,1439.7 L767.0,1441.1 L767.4,1437.5 L768.6,1444.4 L769.9,1443.4 L771.1,1442.8 L772.4,1444.2 L773.6,1445.4 L774.9,1449.5 L776.1,1441.6 L777.4,1444.5 L778.6,1443.5 L779.9,1442.1 L781.1,1442.7 L782.4,1443.6 L783.6,1447.7 L784.9,1445.4 L785.5,1444.6 L786.1,1447.4 L787.4,1446.4 L788.6,1445.0 L789.9,1446.4 L791.1,1443.2 L792.4,1446.8 L793.6,1446.2 L794.9,1442.2 L796.1,1441.7 L797.4,1448.5 L798.6,1444.8 L799.9,1452.1 L801.1,1442.7 L802.4,1446.3 L803.6,1443.0 L804.1,1444.6 L804.9,1446.0 L806.1,1441.8 L807.4,1443.4 L808.6,1444.0 L809.9,1443.7 L811.1,1444.8 L812.4,1445.8 L813.6,1445.2 L814.9,1443.6 L816.1,1441.9 L817.4,1439.8 L818.6,1440.7 L819.9,1441.1 L821.1,1444.1 L822.6,1441.3 L823.6,1438.8 L824.9,1443.3 L826.1,1439.4 L827.4,1439.3 L828.6,1440.4 L829.9,1441.9 L831.1,1424.5 L832.4,1437.3 L833.6,1440.4 L834.9,1438.8 L836.1,1437.2 L837.4,1437.8 L838.6,1442.5 L839.9,1437.5 L841.2,1440.2 L842.4,1443.4 L843.6,1436.6 L844.9,1438.6 L846.1,1436.0 L847.4,1435.3 L848.6,1433.7 L849.9,1438.5 L851.1,1434.9 L852.4,1434.2 L853.6,1432.4 L854.9,1439.7 L856.1,1436.6 L857.4,1434.0 L858.6,1432.3 L859.7,1429.8 L861.1,1435.3 L862.4,1433.6 L863.6,1428.8 L864.9,1435.0 L866.1,1433.6 L867.4,1428.6 L868.6,1429.2 L869.9,1429.1 L871.1,1430.2 L872.4,1429.0 L873.6,1424.6 L874.9,1432.4 L876.1,1428.9 L877.4,1430.9 L878.3,1430.6 L878.6,1426.4 L879.9,1426.7 L881.1,1426.6 L882.4,1425.6 L883.6,1421.9 L884.9,1419.6 L886.1,1420.2 L887.4,1416.8 L888.6,1416.3 L889.4,1411.7 L889.9,1416.7 L891.1,1412.1 L892.4,1411.8 L893.6,1411.6 L894.9,1411.0 L896.1,1413.8 L896.8,1408.4 L897.4,1403.2 L898.6,1406.0 L899.9,1402.5 L901.1,1403.7 L902.4,1399.4 L903.6,1398.2 L904.9,1397.6 L906.1,1396.5 L907.4,1397.9 L908.6,1398.8 L909.8,1400.4 L911.1,1405.9 L912.4,1403.6 L913.6,1407.0 L914.9,1412.1 L915.4,1412.9 L916.1,1417.4 L917.4,1417.6 L918.6,1418.8 L919.9,1425.1 L921.1,1428.4 L922.4,1426.1 L922.8,1428.6 L923.6,1424.7 L924.9,1429.4 L926.1,1429.3 L927.4,1432.3 L928.6,1432.9 L929.9,1434.9 L931.1,1436.4 L932.4,1439.1 L933.9,1440.0 L934.9,1438.2 L936.1,1436.7 L937.4,1443.4 L938.6,1444.2 L939.9,1439.7 L941.1,1442.6 L942.4,1437.6 L943.6,1437.9 L944.9,1441.4 L946.1,1446.1 L947.4,1440.1 L948.6,1440.9 L949.9,1447.4 L951.1,1438.9 L952.5,1445.6 L953.6,1444.9 L954.9,1442.9 L956.1,1443.6 L957.4,1449.4 L958.6,1439.6 L959.9,1441.4 L961.1,1441.3 L962.4,1439.8 L963.6,1437.8 L964.9,1445.0 L966.1,1441.2 L967.4,1435.8 L968.6,1438.2 L969.9,1440.7 L971.1,1442.1 L972.4,1435.1 L973.6,1437.9 L974.9,1438.2 L976.1,1437.9 L977.4,1437.2 L978.6,1430.9 L979.9,1439.7 L981.1,1434.9 L982.4,1438.4 L983.6,1440.5 L984.9,1432.0 L986.1,1428.6 L987.4,1433.5 L988.6,1430.1 L989.6,1428.9 L991.1,1427.3 L992.6,1434.4 L993.6,1425.5 L994.9,1422.9 L996.1,1423.5 L997.7,1419.3 L998.6,1420.3 L999.9,1415.7 L1001.1,1410.9 L1002.4,1412.1 L1002.8,1405.0 L1003.6,1410.2 L1004.9,1409.8 L1006.1,1403.4 L1007.4,1400.8 L1007.9,1402.3 L1008.6,1402.3 L1009.9,1396.8 L1011.1,1394.0 L1012.4,1390.3 L1013.0,1389.9 L1013.6,1387.7 L1014.9,1378.3 L1016.1,1373.2 L1016.9,1371.2 L1017.4,1366.6 L1018.6,1362.1 L1019.9,1356.6 L1021.2,1348.0 L1022.4,1343.5 L1023.6,1340.1 L1024.6,1354.2 L1026.2,1331.9 L1027.1,1319.2 L1028.7,1306.3 L1029.7,1305.1 L1031.5,1286.3 L1032.4,1277.3 L1034.0,1272.3 L1034.9,1254.3 L1036.1,1245.7 L1037.4,1231.4 L1038.1,1213.9 L1038.7,1213.7 L1039.9,1211.0 L1041.2,1209.6 L1042.4,1182.9 L1043.7,1169.8 L1045.0,1143.1 L1046.2,1117.3 L1046.8,1103.1 L1047.4,1098.5 L1048.9,1075.5 L1049.9,1068.7 L1051.4,1046.5 L1052.4,1021.1 L1053.0,1013.8 L1053.8,992.3 L1054.6,978.2 L1055.1,968.5 L1056.2,965.7 L1056.7,963.5 L1056.9,946.4 L1057.5,933.9 L1058.7,936.8 L1060.1,940.9 L1061.2,938.8 L1062.7,935.6 L1063.5,943.6 L1064.8,955.7 L1066.2,971.2 L1066.6,975.8 L1067.4,980.0 L1067.9,993.2 L1068.7,1007.1 L1069.9,1024.9 L1070.6,1047.3 L1071.2,1053.9 L1072.4,1076.7 L1073.2,1090.0 L1073.7,1103.9 L1074.9,1127.4 L1075.7,1139.1 L1076.2,1146.7 L1077.4,1161.2 L1078.3,1174.5 L1078.7,1177.2 L1079.9,1199.3 L1080.9,1212.8 L1082.4,1236.1 L1083.4,1250.9 L1084.9,1261.1 L1086.0,1272.3 L1087.4,1295.0 L1088.5,1296.0 L1089.9,1315.8 L1091.1,1325.9 L1092.4,1331.5 L1093.7,1333.8 L1094.9,1343.2 L1096.2,1352.1 L1097.5,1361.6 L1098.7,1368.1 L1099.9,1373.1 L1101.3,1374.9 L1102.4,1388.0 L1103.7,1388.3 L1105.2,1391.6 L1106.2,1397.4 L1107.4,1397.9 L1108.7,1397.0 L1109.9,1408.4 L1110.3,1402.5 L1111.2,1408.1 L1112.4,1411.5 L1113.7,1417.2 L1114.9,1419.3 L1116.2,1419.1 L1117.4,1419.1 L1118.0,1421.2 L1118.7,1426.0 L1119.9,1429.5 L1121.2,1427.9 L1122.4,1426.5 L1123.7,1436.7 L1124.9,1430.6 L1125.7,1431.6 L1126.2,1432.3 L1127.4,1438.1 L1128.7,1436.0 L1129.9,1439.0 L1131.2,1440.9 L1132.4,1440.1 L1133.7,1434.1 L1134.9,1436.8 L1136.2,1442.6 L1137.4,1443.2 L1138.4,1449.7 L1139.9,1445.3 L1141.2,1445.8 L1142.4,1449.4 L1143.7,1450.6 L1144.9,1448.2 L1146.2,1450.8 L1147.4,1447.8 L1148.2,1448.8 L1148.7,1454.1 L1149.9,1441.9 L1151.2,1453.1 L1152.4,1452.3 L1153.7,1452.4 L1154.9,1452.7 L1156.2,1451.7 L1157.4,1444.9 L1157.9,1447.6 L1158.7,1449.1 L1159.9,1453.5 L1161.2,1449.3 L1162.4,1451.1 L1163.7,1452.7 L1164.9,1457.5 L1166.2,1451.6 L1167.7,1452.7 L1168.7,1457.8 L1169.9,1451.5 L1171.2,1457.8 L1172.4,1456.3 L1173.7,1454.0 L1174.9,1457.1 L1176.2,1456.1 L1177.4,1459.3 L1178.7,1459.9 L1179.9,1462.7 L1181.2,1459.2 L1182.4,1459.6 L1183.7,1458.1 L1184.9,1459.6 L1186.2,1462.3 L1187.4,1455.3 L1188.7,1461.6 L1189.9,1458.8 L1191.2,1460.4 L1192.4,1461.1 L1193.7,1462.5 L1194.9,1461.2 L1196.2,1459.8 L1196.9,1461.5 L1197.4,1461.0 L1198.7,1460.8 L1199.9,1462.2 L1201.2,1464.1 L1202.4,1462.8 L1203.7,1463.2 L1204.9,1460.2 L1206.2,1463.3 L1207.4,1459.6 L1208.7,1468.7 L1209.9,1462.5 L1211.2,1468.1 L1212.4,1472.5 L1213.7,1464.9 L1214.9,1469.3 L1216.4,1467.6 L1217.4,1465.4 L1218.7,1464.6 L1219.9,1467.8 L1221.2,1469.7 L1222.4,1467.2 L1223.7,1462.8 L1224.9,1463.8 L1226.2,1465.7 L1227.4,1469.3 L1228.7,1466.7 L1229.9,1466.8 L1231.2,1468.8 L1232.4,1465.4 L1233.7,1465.6 L1234.9,1465.3 L1235.9,1461.5 L1237.4,1466.9 L1238.7,1466.8 L1239.9,1468.2 L1241.2,1463.2 L1242.4,1464.1 L1243.7,1468.3 L1244.9,1466.9 L1246.2,1469.4 L1247.4,1464.3 L1248.7,1466.8 L1249.9,1464.8 L1251.2,1467.2 L1252.4,1465.4 L1253.7,1467.9 L1254.9,1469.2 L1255.3,1468.3 L1256.2,1462.6 L1257.4,1469.1 L1258.7,1468.1 L1259.9,1460.9 L1261.2,1465.2 L1262.4,1467.4 L1263.7,1468.8 L1264.9,1466.6 L1266.2,1464.0 L1267.4,1468.5 L1268.7,1468.4 L1269.9,1473.8 L1271.2,1465.3 L1272.4,1474.2 L1273.7,1472.5 L1274.8,1469.3 L1276.2,1472.5 L1277.4,1469.0 L1278.7,1471.1 L1279.9,1467.2 L1281.2,1469.1 L1282.4,1466.6 L1283.7,1465.4 L1284.9,1468.5 L1286.2,1467.7 L1287.4,1470.6 L1288.7,1472.2 L1289.9,1469.0 L1291.2,1469.6 L1292.4,1469.9 L1293.7,1465.7 L1294.3,1470.2 L1294.9,1469.6 L1296.2,1469.5 L1297.4,1467.1 L1298.7,1465.0 L1299.9,1469.0 L1301.2,1470.3 L1302.4,1472.7 L1303.7,1472.2 L1304.9,1473.0 L1306.2,1470.5 L1307.4,1472.3 L1308.7,1469.1 L1309.9,1471.0 L1311.2,1471.7 L1312.4,1475.8 L1313.8,1470.2 L1314.9,1466.7 L1316.2,1472.9 L1317.4,1468.0 L1318.7,1469.7 L1319.9,1469.2 L1321.2,1467.9 L1322.4,1473.1 L1323.7,1471.5 L1324.9,1468.8 L1326.2,1470.4 L1327.4,1469.3 L1328.7,1471.8 L1329.9,1469.6 L1331.2,1468.7 L1332.4,1469.1 L1333.3,1469.6 L1333.7,1471.3 L1334.9,1468.6 L1336.2,1470.5 L1337.4,1471.8 L1338.7,1476.2 L1339.9,1472.9 L1341.2,1464.2 L1342.4,1469.9 L1343.7,1470.2 L1344.9,1471.9 L1346.2,1474.9 L1347.4,1473.0 L1348.7,1466.1 L1349.9,1472.2 L1351.2,1472.2 L1352.7,1472.5 L1353.7,1479.7 L1354.9,1469.1 L1356.2,1474.1 L1357.4,1467.8 L1358.7,1471.7 L1359.9,1472.5 L1361.2,1476.8 L1362.4,1470.0 L1363.7,1467.7 L1364.9,1473.2 L1366.2,1470.1 L1367.4,1475.2 L1368.7,1470.0 L1369.9,1469.6 L1371.2,1479.0 L1372.2,1471.8 L1373.7,1473.9 L1374.9,1468.3 L1376.2,1475.4 L1377.4,1470.3 L1378.7,1473.5 L1379.9,1469.3 L1381.2,1468.1 L1382.4,1471.0 L1383.7,1472.0 L1384.9,1475.2 L1386.2,1472.4 L1387.4,1473.2 L1388.7,1473.1 L1389.9,1478.7 L1391.2,1469.7 L1391.7,1474.5 L1392.4,1471.2 L1393.7,1472.1 L1394.9,1470.2 L1396.2,1474.0 L1397.4,1468.4 L1398.7,1468.2 L1399.9,1470.7 L1401.2,1468.5 L1402.4,1472.7 L1403.7,1473.1 L1404.9,1469.2 L1406.2,1472.7 L1407.4,1469.3 L1408.7,1470.6 L1409.9,1470.7 L1411.2,1474.9 L1412.4,1470.5 L1413.7,1468.3 L1414.9,1468.1 L1416.2,1472.8 L1417.4,1466.1 L1418.7,1468.8 L1419.9,1468.8 L1421.2,1463.9 L1422.4,1468.4 L1423.7,1471.6 L1424.9,1469.7 L1426.2,1467.0 L1427.4,1470.5 L1428.7,1470.0 L1429.9,1473.4 L1430.7,1466.9 L1431.2,1467.7 L1432.4,1468.6 L1433.7,1468.1 L1434.9,1468.6 L1436.2,1468.1 L1437.4,1466.7 L1438.7,1464.5 L1439.9,1466.9 L1441.2,1464.9 L1442.4,1465.6 L1443.7,1466.7 L1444.9,1469.1 L1446.2,1469.9 L1447.4,1465.4 L1448.7,1468.5 L1450.2,1469.5 L1451.2,1467.5 L1452.4,1463.6 L1453.7,1462.3 L1454.9,1469.0 L1456.2,1469.2 L1457.4,1467.6 L1458.7,1464.3 L1459.9,1470.0 L1461.2,1468.8 L1462.4,1465.3 L1463.7,1464.2 L1464.9,1459.5 L1466.2,1465.2 L1467.4,1459.0 L1467.9,1464.1 L1468.7,1464.0 L1469.9,1462.2 L1471.2,1465.3 L1472.4,1460.4 L1473.7,1462.2 L1474.9,1462.3 L1476.2,1460.2 L1477.4,1457.7 L1478.7,1465.3 L1479.9,1457.9 L1481.2,1455.6 L1481.9,1455.1 L1482.4,1455.8 L1483.7,1460.7 L1484.9,1455.2 L1486.2,1454.1 L1487.4,1451.8 L1488.8,1451.2 L1489.9,1448.5 L1491.2,1452.4 L1492.3,1450.7 L1493.7,1447.2 L1494.9,1445.2 L1496.2,1447.1 L1497.4,1445.8 L1498.7,1442.9 L1499.3,1446.5 L1499.9,1444.4 L1501.2,1440.5 L1502.4,1441.9 L1502.8,1434.4 L1503.7,1438.7 L1504.9,1431.5 L1506.2,1434.3 L1507.4,1433.5 L1508.7,1430.1 L1509.8,1430.6 L1511.2,1423.5 L1512.4,1420.1 L1513.3,1421.5 L1513.7,1419.1 L1514.9,1418.7 L1516.2,1413.5 L1516.8,1413.1 L1517.4,1410.6 L1518.7,1406.8 L1520.2,1402.1 L1521.2,1397.7 L1522.4,1393.4 L1523.0,1398.3 L1523.7,1377.7 L1524.9,1385.4 L1526.5,1383.0 L1527.4,1379.1 L1529.0,1377.7 L1529.9,1368.0 L1530.7,1356.5 L1531.2,1354.8 L1532.4,1340.2 L1533.0,1345.4 L1533.7,1337.4 L1534.9,1322.2 L1536.2,1316.1 L1536.7,1309.2 L1537.4,1303.5 L1538.7,1302.5 L1539.5,1296.8 L1539.9,1292.7 L1541.4,1269.1 L1542.4,1261.0 L1543.7,1251.7 L1544.1,1242.6 L1544.9,1233.1 L1545.5,1225.2 L1546.2,1221.4 L1547.4,1203.4 L1547.9,1206.1 L1548.7,1207.2 L1549.9,1198.1 L1550.7,1197.5 L1551.2,1194.3 L1552.4,1181.6 L1552.9,1178.5 L1553.7,1183.3 L1554.9,1191.0 L1555.3,1193.5 L1556.2,1191.0 L1557.2,1187.6 L1559.0,1216.7 L1559.9,1223.6 L1561.2,1231.6 L1561.8,1238.4 L1562.4,1244.6 L1563.7,1262.1 L1564.9,1270.6 L1566.5,1289.3 L1567.4,1301.3 L1568.7,1311.7 L1569.3,1317.7 L1569.9,1320.5 L1571.2,1330.2 L1572.4,1343.3 L1573.0,1341.3 L1573.7,1354.4 L1574.9,1353.1 L1576.2,1364.7 L1576.7,1363.9 L1577.4,1365.0 L1578.7,1378.0 L1579.5,1383.5 L1579.9,1386.1 L1581.2,1393.2 L1582.4,1396.0 L1583.2,1399.8 L1583.7,1401.8 L1584.9,1403.3 L1586.2,1410.3 L1587.4,1415.6 L1587.8,1417.5 L1588.7,1418.8 L1589.9,1420.2 L1591.2,1426.1 L1592.4,1421.8 L1593.4,1428.3 L1594.9,1430.9 L1596.2,1436.1 L1597.4,1437.6 L1599.0,1440.6 L1599.9,1439.5 L1601.2,1443.1 L1602.4,1439.5 L1603.7,1443.2 L1604.9,1439.3 L1606.4,1450.3 L1607.4,1450.9 L1608.7,1446.8 L1609.9,1447.5 L1611.2,1445.7 L1612.4,1448.4 L1613.7,1453.6 L1614.9,1454.2 L1615.7,1451.8 L1616.2,1454.4 L1617.4,1454.7 L1618.7,1458.1 L1619.9,1459.4 L1621.2,1457.9 L1622.4,1459.4 L1623.7,1459.8 L1624.9,1455.6 L1626.2,1461.7 L1627.4,1461.8 L1628.8,1464.5 L1629.9,1458.8 L1631.2,1465.3 L1632.4,1462.3 L1633.7,1464.8 L1634.9,1467.4 L1636.2,1461.5 L1637.4,1462.3 L1638.7,1468.0 L1639.9,1463.5 L1641.2,1460.2 L1641.8,1468.1 L1642.4,1466.3 L1643.7,1468.8 L1644.9,1467.9 L1646.2,1467.4 L1647.4,1469.9 L1648.7,1480.5 L1649.9,1467.9 L1651.2,1471.7 L1652.4,1471.1 L1653.7,1469.0 L1654.9,1470.0 L1656.2,1467.0 L1657.4,1468.0 L1658.7,1470.3 L1659.5,1469.7 L1659.9,1472.8 L1661.2,1467.1 L1662.4,1469.6 L1663.7,1469.0 L1664.9,1470.3 L1666.2,1473.5 L1667.4,1468.3 L1668.7,1473.1 L1669.9,1470.0 L1671.2,1470.8 L1672.4,1474.1 L1673.7,1471.3 L1674.9,1473.7 L1676.2,1472.6 L1677.4,1472.2 L1679.0,1472.0 L1679.9,1468.9 L1681.2,1471.1 L1682.4,1473.2 L1683.7,1473.3 L1684.9,1469.4 L1686.2,1475.1 L1687.4,1474.1 L1688.7,1469.9 L1689.9,1470.4 L1691.2,1474.0 L1692.4,1468.8 L1693.7,1471.1 L1694.9,1472.7 L1696.2,1472.5 L1697.4,1472.7 L1698.4,1473.7 L1699.9,1471.0 L1701.2,1471.7 L1702.4,1477.5 L1703.7,1469.7 L1704.9,1471.8 L1706.2,1473.1 L1707.4,1471.4 L1708.7,1475.6 L1709.9,1473.0 L1711.2,1474.6 L1712.4,1466.9 L1713.7,1475.6 L1714.9,1475.5 L1716.2,1471.1 L1717.4,1475.8 L1717.9,1473.5 L1718.7,1475.0 L1719.9,1477.2 L1721.2,1473.4 L1722.4,1471.0 L1723.7,1473.4 L1724.9,1470.7 L1726.2,1471.9 L1727.4,1472.1 L1728.7,1472.3 L1729.9,1476.7 L1731.2,1476.1 L1732.4,1472.3 L1733.7,1477.0 L1734.9,1470.8 L1736.2,1473.2 L1737.4,1474.5 L1738.7,1477.5 L1739.9,1476.5 L1741.2,1475.8 L1742.4,1477.8 L1743.7,1476.4 L1744.9,1477.9 L1746.2,1473.1 L1747.4,1464.7 L1748.7,1473.9 L1749.9,1479.5 L1751.2,1475.4 L1752.4,1476.9 L1753.7,1476.4 L1754.9,1476.0 L1756.2,1476.7 L1756.9,1473.2 L1757.4,1477.3 L1758.7,1472.6 L1759.9,1474.6 L1761.2,1471.7 L1762.4,1476.0 L1763.7,1471.4 L1764.9,1478.0 L1766.2,1471.8 L1767.4,1475.4 L1768.7,1474.5 L1769.9,1472.9 L1771.2,1477.7 L1772.4,1473.9 L1773.7,1478.2 L1774.9,1472.5 L1776.4,1473.0 L1777.4,1470.3 L1778.7,1476.0 L1779.9,1476.7 L1781.2,1475.1 L1782.4,1474.2 L1783.7,1472.4 L1784.9,1479.7 L1786.2,1476.0 L1787.4,1463.2 L1788.7,1473.5 L1789.9,1468.3 L1791.2,1477.7 L1792.4,1478.5 L1793.7,1477.3 L1794.9,1473.8 L1795.9,1470.2 L1797.4,1470.5 L1798.7,1474.8 L1799.9,1471.8 L1801.2,1472.5 L1802.4,1471.8 L1803.7,1472.4 L1804.9,1478.1 L1806.2,1476.7 L1807.4,1473.1 L1808.7,1472.7 L1809.9,1470.0 L1811.2,1469.6 L1812.4,1469.8 L1813.7,1474.2 L1814.9,1472.6 L1815.3,1474.2 L1816.2,1472.5 L1817.4,1470.0 L1818.7,1462.7 L1819.9,1468.8 L1821.2,1465.8 L1822.4,1473.0 L1823.7,1468.4 L1825.1,1464.7 L1826.2,1471.5 L1827.4,1465.7 L1828.7,1467.7 L1829.9,1465.8 L1831.2,1466.7 L1832.4,1464.8 L1833.7,1466.6 L1834.8,1468.5 L1836.2,1461.7 L1837.4,1458.9 L1838.7,1466.8 L1839.9,1463.6 L1841.2,1464.7 L1842.4,1461.5 L1843.7,1465.3 L1844.6,1465.6 L1846.2,1457.4 L1847.4,1463.3 L1848.7,1457.0 L1849.9,1453.7 L1851.2,1455.9 L1852.4,1457.1 L1853.7,1451.5 L1854.3,1451.2 L1854.9,1457.1 L1856.2,1453.6 L1857.4,1454.0 L1858.7,1449.7 L1859.9,1450.3 L1861.2,1451.7 L1862.4,1451.3 L1863.7,1450.7 L1864.9,1452.4 L1866.2,1449.5 L1867.4,1448.8 L1867.9,1448.7 L1868.7,1448.9 L1869.9,1450.2 L1871.2,1448.2 L1872.4,1448.8 L1873.7,1449.9 L1874.9,1448.5 L1875.7,1448.4 L1876.2,1450.6 L1877.4,1455.6 L1878.7,1456.4 L1879.9,1456.7 L1881.2,1460.3 L1881.6,1457.1 L1882.4,1462.8 L1883.7,1462.6 L1884.9,1461.9 L1886.2,1457.7 L1887.4,1466.9 L1888.7,1455.5 L1889.9,1456.2 L1891.2,1461.1 L1892.4,1465.3 L1893.3,1460.5 L1893.7,1464.7 L1894.9,1464.2 L1896.2,1464.3 L1897.4,1467.5 L1898.7,1469.3 L1899.9,1467.3 L1901.2,1466.2 L1902.4,1462.0 L1903.7,1471.2 L1904.9,1467.5 L1906.2,1464.3 L1906.9,1469.3 L1907.4,1472.2 L1908.7,1467.3 L1909.9,1465.7 L1911.2,1473.5 L1912.4,1471.3 L1913.7,1468.6 L1914.9,1469.9 L1916.2,1462.3 L1917.4,1467.0 L1918.6,1466.6 L1919.9,1471.6 L1921.2,1464.4 L1922.4,1463.8 L1923.7,1461.2 L1924.9,1461.9 L1926.2,1462.7 L1927.4,1463.2 L1928.7,1461.5 L1929.9,1466.1 L1931.2,1461.9 L1932.2,1461.7 L1933.7,1462.5 L1934.9,1459.9 L1936.2,1456.3 L1937.4,1453.0 L1938.7,1456.7 L1939.9,1453.0 L1941.2,1457.4 L1942.4,1451.5 L1943.9,1447.0 L1944.9,1451.0 L1946.2,1451.6 L1947.4,1446.6 L1948.7,1445.7 L1949.9,1443.7 L1951.2,1445.8 L1951.7,1441.4 L1952.4,1439.3 L1953.7,1435.6 L1954.9,1430.7 L1956.2,1436.2 L1957.4,1433.3 L1958.7,1425.6 L1959.9,1427.4 L1961.4,1424.0 L1962.4,1421.1 L1963.7,1420.0 L1964.9,1421.6 L1966.2,1415.4 L1967.4,1416.1 L1968.7,1415.9 L1969.9,1414.9 L1971.2,1413.6 L1972.4,1415.5 L1973.7,1417.9 L1974.9,1417.0 L1976.2,1421.0 L1977.4,1421.3 L1979.0,1429.0 L1979.9,1423.4 L1981.2,1427.9 L1982.4,1434.5 L1983.7,1434.8 L1984.9,1437.5 L1986.2,1439.9 L1986.8,1443.4 L1987.4,1441.0 L1988.7,1446.1 L1989.9,1448.6 L1991.2,1447.8 L1992.4,1454.5 L1993.7,1455.2 L1994.6,1458.9 L1996.2,1461.4 L1997.4,1461.1 L1998.7,1458.5 L1999.9,1463.0 L2001.2,1459.4 L2001.6,1461.7 L2002.4,1474.1 L2003.7,1465.0 L2004.9,1469.9 L2006.2,1466.9 L2007.4,1468.4 L2008.7,1466.9 L2009.9,1472.7 L2010.5,1470.6 L2011.2,1472.8 L2012.4,1472.8 L2013.7,1473.6 L2014.9,1473.6 L2016.2,1473.3 L2017.4,1473.9 L2018.7,1472.8 L2019.9,1470.1 L2021.2,1476.3 L2022.4,1480.2 L2023.7,1478.3 L2024.9,1481.5 L2026.2,1477.6 L2027.4,1474.7 L2028.7,1474.9 L2029.9,1479.1 L2031.2,1478.6 L2032.4,1477.7 L2033.7,1480.1 L2034.2,1476.6 L2034.9,1479.7 L2036.2,1477.9 L2037.4,1478.9 L2038.7,1481.3 L2039.9,1478.3 L2041.2,1481.7 L2042.4,1481.6 L2043.7,1476.9 L2044.9,1483.8 L2046.2,1471.4 L2047.4,1478.4 L2048.7,1482.9 L2049.1,1473.5 L2049.9,1481.0 L2051.2,1481.3 L2052.4,1478.5 L2053.7,1479.4 L2054.9,1479.4 L2056.2,1478.5 L2057.4,1481.4 L2058.7,1478.2 L2059.9,1479.0 L2061.2,1480.0 L2062.4,1481.2 L2063.9,1481.8 L2064.9,1476.2 L2066.2,1475.1 L2067.4,1479.6 L2068.7,1479.9 L2069.9,1477.8 L2071.2,1482.3 L2072.4,1482.0 L2073.7,1481.7 L2074.9,1484.7 L2076.2,1478.9 L2077.4,1481.5 L2078.7,1485.9 L2079.9,1483.2 L2081.2,1479.3 L2082.4,1482.2 L2083.7,1484.5 L2084.9,1486.5 L2086.2,1483.4 L2087.4,1484.6 L2088.7,1479.6 L2089.9,1481.6 L2091.2,1484.8 L2092.4,1480.1 L2093.6,1482.2 L2094.9,1478.2 L2096.2,1485.7 L2097.4,1482.2 L2098.7,1483.8 L2099.9,1479.3 L2101.2,1479.8 L2102.4,1486.7 L2103.7,1482.0 L2104.9,1481.6 L2106.2,1484.0 L2107.4,1484.2 L2108.4,1478.7 L2109.9,1481.0 L2111.2,1483.4 L2112.4,1483.4 L2113.7,1484.3 L2114.9,1482.7 L2116.2,1483.2 L2117.4,1485.1 L2118.7,1482.5 L2119.9,1482.3 L2121.2,1483.1 L2122.4,1484.4 L2123.3,1484.2 L2124.9,1483.4 L2126.2,1483.8 L2127.4,1484.2 L2128.7,1484.9 L2129.9,1485.0 L2131.2,1481.3 L2132.4,1486.2 L2133.7,1480.5 L2134.9,1485.1 L2136.2,1482.3 L2137.4,1485.1 L2138.1,1486.1 L2138.7,1479.6 L2139.9,1485.0 L2141.2,1485.1 L2142.4,1482.5 L2143.7,1484.3 L2144.9,1482.3 L2146.2,1484.0 L2147.4,1481.0 L2148.7,1484.9 L2149.9,1484.4 L2151.2,1484.7 L2152.4,1481.6 L2153.0,1487.0 L2153.7,1487.3 L2154.9,1482.8 L2156.2,1482.1 L2157.4,1482.1 L2158.7,1484.5 L2159.9,1485.2 L2161.2,1481.3 L2162.4,1478.5 L2163.7,1484.0 L2164.9,1482.9 L2166.2,1483.3 L2167.4,1484.1 L2167.8,1480.5 L2168.7,1483.1 L2169.9,1482.3 L2171.2,1483.8 L2172.4,1485.6 L2173.7,1483.0 L2174.9,1481.1 L2176.2,1485.7 L2177.4,1484.5 L2178.7,1482.5 L2179.9,1479.0 L2181.2,1481.0 L2182.6,1483.2 L2183.7,1484.2 L2184.9,1481.9 L2186.2,1484.1 L2187.4,1481.8 L2188.7,1482.3 L2189.9,1484.5 L2191.2,1482.8 L2192.4,1483.7 L2193.7,1485.4 L2194.9,1486.0 L2196.2,1482.3 L2197.5,1483.1 L2198.7,1480.7 L2199.9,1480.7 L2201.2,1484.1 L2202.4,1482.3 L2203.7,1479.3 L2204.9,1484.4 L2206.2,1481.4 L2207.4,1482.5 L2208.7,1484.0 L2209.9,1483.9 L2211.2,1482.4 L2212.3,1478.5 L2213.7,1484.2 L2214.9,1481.7 L2216.2,1480.0 L2217.4,1478.3 L2218.7,1486.1 L2219.9,1483.6 L2221.2,1483.6 L2222.4,1484.8 L2223.7,1483.3 L2224.9,1480.3 L2226.2,1485.1 L2227.2,1489.2 L2228.7,1484.7 L2229.9,1486.9 L2231.2,1487.6 L2232.4,1481.7 L2233.7,1482.4 L2234.9,1485.2 L2236.2,1483.6 L2237.4,1483.6 L2238.7,1485.1 L2239.9,1484.6 L2241.2,1482.0 L2242.0,1483.2 L2242.4,1481.3 L2243.7,1482.5 L2244.9,1480.5 L2246.2,1478.6 L2247.4,1481.8 L2248.7,1481.6 L2249.9,1484.9 L2251.2,1486.3 L2252.4,1482.9 L2253.7,1483.9 L2254.9,1481.5 L2256.2,1480.9 L2256.8,1482.3 L2257.4,1482.4 L2258.7,1483.9 L2259.9,1483.8 L2261.2,1487.4 L2262.4,1483.6 L2263.7,1480.7 L2264.3,1484.7" fill="none" stroke="#000" stroke-width="1.9" stroke-linejoin="miter" stroke-miterlimit="3"/>
<path d="M224.5,75.0H2268.15 M224.5,75.0V721.3 M2268.15,75.0V721.3 M224.5,721.3H2268.15" fill="none" stroke="#000" stroke-width="6.5" stroke-linecap="butt"/>
<path d="M224.5,857.9H2268.15 M224.5,857.9V1597.35 M2268.15,857.9V1597.35 M224.5,1597.35H2268.15" fill="none" stroke="#000" stroke-width="6.5" stroke-linecap="butt"/>
<rect x="356.75" y="721.3" width="6.5" height="17.7" fill="#000"/>
<rect x="629.25" y="721.3" width="6.5" height="17.7" fill="#000"/>
<rect x="901.75" y="721.3" width="6.5" height="17.7" fill="#000"/>
<rect x="1174.25" y="721.3" width="6.5" height="17.7" fill="#000"/>
<rect x="1446.75" y="721.3" width="6.5" height="17.7" fill="#000"/>
<rect x="1719.25" y="721.3" width="6.5" height="17.7" fill="#000"/>
<rect x="1991.75" y="721.3" width="6.5" height="17.7" fill="#000"/>
<rect x="2264.25" y="721.3" width="6.5" height="17.7" fill="#000"/>
<rect x="220.50" y="721.3" width="6.5" height="9.4" fill="#000"/>
<rect x="493.00" y="721.3" width="6.5" height="9.4" fill="#000"/>
<rect x="765.50" y="721.3" width="6.5" height="9.4" fill="#000"/>
<rect x="1038.00" y="721.3" width="6.5" height="9.4" fill="#000"/>
<rect x="1310.50" y="721.3" width="6.5" height="9.4" fill="#000"/>
<rect x="1583.00" y="721.3" width="6.5" height="9.4" fill="#000"/>
<rect x="1855.50" y="721.3" width="6.5" height="9.4" fill="#000"/>
<rect x="2128.00" y="721.3" width="6.5" height="9.4" fill="#000"/>
<rect x="221.25" y="1597.3" width="6.5" height="17.9" fill="#000"/>
<rect x="476.71" y="1597.3" width="6.5" height="17.9" fill="#000"/>
<rect x="732.16" y="1597.3" width="6.5" height="17.9" fill="#000"/>
<rect x="987.62" y="1597.3" width="6.5" height="17.9" fill="#000"/>
<rect x="1243.08" y="1597.3" width="6.5" height="17.9" fill="#000"/>
<rect x="1498.53" y="1597.3" width="6.5" height="17.9" fill="#000"/>
<rect x="1753.99" y="1597.3" width="6.5" height="17.9" fill="#000"/>
<rect x="2009.44" y="1597.3" width="6.5" height="17.9" fill="#000"/>
<rect x="2264.90" y="1597.3" width="6.5" height="17.9" fill="#000"/>
<rect x="348.98" y="1597.3" width="6.5" height="9.7" fill="#000"/>
<rect x="604.43" y="1597.3" width="6.5" height="9.7" fill="#000"/>
<rect x="859.89" y="1597.3" width="6.5" height="9.7" fill="#000"/>
<rect x="1115.35" y="1597.3" width="6.5" height="9.7" fill="#000"/>
<rect x="1370.80" y="1597.3" width="6.5" height="9.7" fill="#000"/>
<rect x="1626.26" y="1597.3" width="6.5" height="9.7" fill="#000"/>
<rect x="1881.72" y="1597.3" width="6.5" height="9.7" fill="#000"/>
<rect x="2137.17" y="1597.3" width="6.5" height="9.7" fill="#000"/>
<g transform="translate(360.00,804.30) scale(1,1.05)"><text x="-37.04" font-family='"Liberation Sans", Arial, sans-serif' font-weight="bold" font-size="66.6" fill="#000"><tspan dx="1.79">1</tspan><tspan dx="-1.79">0</tspan></text><rect x="-33.30" y="-10.70" width="13.40" height="12.70" fill="#fff"/><rect x="-10.37" y="-10.70" width="11.38" height="12.70" fill="#fff"/></g>
<g transform="translate(632.50,804.30) scale(1,1.05)"><text x="-37.04" font-family='"Liberation Sans", Arial, sans-serif' font-weight="bold" font-size="66.6" fill="#000">20</text></g>
<g transform="translate(905.00,804.30) scale(1,1.05)"><text x="-37.04" font-family='"Liberation Sans", Arial, sans-serif' font-weight="bold" font-size="66.6" fill="#000">30</text></g>
<g transform="translate(1177.50,804.30) scale(1,1.05)"><text x="-37.04" font-family='"Liberation Sans", Arial, sans-serif' font-weight="bold" font-size="66.6" fill="#000">40</text></g>
<g transform="translate(1450.00,804.30) scale(1,1.05)"><text x="-37.04" font-family='"Liberation Sans", Arial, sans-serif' font-weight="bold" font-size="66.6" fill="#000">50</text></g>
<g transform="translate(1722.50,804.30) scale(1,1.05)"><text x="-37.04" font-family='"Liberation Sans", Arial, sans-serif' font-weight="bold" font-size="66.6" fill="#000">60</text></g>
<g transform="translate(1995.00,804.30) scale(1,1.05)"><text x="-37.04" font-family='"Liberation Sans", Arial, sans-serif' font-weight="bold" font-size="66.6" fill="#000">70</text></g>
<g transform="translate(2267.50,804.30) scale(1,1.05)"><text x="-37.04" font-family='"Liberation Sans", Arial, sans-serif' font-weight="bold" font-size="66.6" fill="#000">80</text></g>
<g transform="translate(224.50,1680.20) scale(1,1.05)"><text x="-37.04" font-family='"Liberation Sans", Arial, sans-serif' font-weight="bold" font-size="66.6" fill="#000"><tspan dx="1.79">1</tspan><tspan dx="-1.79">0</tspan></text><rect x="-33.30" y="-10.70" width="13.40" height="12.70" fill="#fff"/><rect x="-10.37" y="-10.70" width="11.38" height="12.70" fill="#fff"/></g>
<g transform="translate(479.96,1680.20) scale(1,1.05)"><text x="-37.04" font-family='"Liberation Sans", Arial, sans-serif' font-weight="bold" font-size="66.6" fill="#000">20</text></g>
<g transform="translate(735.41,1680.20) scale(1,1.05)"><text x="-37.04" font-family='"Liberation Sans", Arial, sans-serif' font-weight="bold" font-size="66.6" fill="#000">30</text></g>
<g transform="translate(990.87,1680.20) scale(1,1.05)"><text x="-37.04" font-family='"Liberation Sans", Arial, sans-serif' font-weight="bold" font-size="66.6" fill="#000">40</text></g>
<g transform="translate(1246.33,1680.20) scale(1,1.05)"><text x="-37.04" font-family='"Liberation Sans", Arial, sans-serif' font-weight="bold" font-size="66.6" fill="#000">50</text></g>
<g transform="translate(1501.78,1680.20) scale(1,1.05)"><text x="-37.04" font-family='"Liberation Sans", Arial, sans-serif' font-weight="bold" font-size="66.6" fill="#000">60</text></g>
<g transform="translate(1757.24,1680.20) scale(1,1.05)"><text x="-37.04" font-family='"Liberation Sans", Arial, sans-serif' font-weight="bold" font-size="66.6" fill="#000">70</text></g>
<g transform="translate(2012.69,1680.20) scale(1,1.05)"><text x="-37.04" font-family='"Liberation Sans", Arial, sans-serif' font-weight="bold" font-size="66.6" fill="#000">80</text></g>
<g transform="translate(2268.15,1680.20) scale(1,1.05)"><text x="-37.04" font-family='"Liberation Sans", Arial, sans-serif' font-weight="bold" font-size="66.6" fill="#000">90</text></g>
<g transform="translate(629.20,460.00) rotate(-90) scale(1,1.04)"><text x="-83.57" font-family='"Liberation Sans", Arial, sans-serif' font-weight="bold" font-size="71.6" fill="#000">(00<tspan dx="1.92">1</tspan><tspan dx="-1.92">)</tspan></text><rect x="23.93" y="-11.50" width="14.40" height="13.50" fill="#fff"/><rect x="48.58" y="-11.50" width="12.24" height="13.50" fill="#fff"/></g>
<g transform="translate(1014.30,517.40) rotate(-90) scale(1,1.04)"><text x="-83.57" font-family='"Liberation Sans", Arial, sans-serif' font-weight="bold" font-size="71.6" fill="#000">(<tspan dx="1.92">1</tspan><tspan dx="-1.92">0</tspan>0)</text><rect x="-55.71" y="-11.50" width="14.40" height="13.50" fill="#fff"/><rect x="-31.06" y="-11.50" width="12.24" height="13.50" fill="#fff"/></g>
<g transform="translate(1161.50,421.00) rotate(-90) scale(1,1.04)"><text x="-83.57" font-family='"Liberation Sans", Arial, sans-serif' font-weight="bold" font-size="71.6" fill="#000">(0<tspan dx="1.92">1</tspan>1<tspan dx="-1.92">)</tspan></text><rect x="-15.89" y="-11.50" width="14.40" height="13.50" fill="#fff"/><rect x="8.76" y="-11.50" width="12.24" height="13.50" fill="#fff"/><rect x="23.93" y="-11.50" width="14.40" height="13.50" fill="#fff"/><rect x="48.58" y="-11.50" width="12.24" height="13.50" fill="#fff"/></g>
<g transform="translate(1516.50,506.75) rotate(-90) scale(1,1.04)"><text x="-83.57" font-family='"Liberation Sans", Arial, sans-serif' font-weight="bold" font-size="71.6" fill="#000">(0<tspan dx="1.92">1</tspan><tspan dx="-1.92">2</tspan>)</text><rect x="-15.89" y="-11.50" width="14.40" height="13.50" fill="#fff"/><rect x="8.76" y="-11.50" width="12.24" height="13.50" fill="#fff"/></g>
<g transform="translate(1719.30,530.00) rotate(-90) scale(1,1.04)"><text x="-83.57" font-family='"Liberation Sans", Arial, sans-serif' font-weight="bold" font-size="71.6" fill="#000">(<tspan dx="1.92">1</tspan>1<tspan dx="-1.92">0</tspan>)</text><rect x="-55.71" y="-11.50" width="14.40" height="13.50" fill="#fff"/><rect x="-31.06" y="-11.50" width="12.24" height="13.50" fill="#fff"/><rect x="-15.89" y="-11.50" width="14.40" height="13.50" fill="#fff"/><rect x="8.76" y="-11.50" width="12.24" height="13.50" fill="#fff"/></g>
<g transform="translate(1818.50,560.00) rotate(-90) scale(1,1.04)"><text x="-83.57" font-family='"Liberation Sans", Arial, sans-serif' font-weight="bold" font-size="71.6" fill="#000">(<tspan dx="1.92">1</tspan>11<tspan dx="-1.92">)</tspan></text><rect x="-55.71" y="-11.50" width="14.40" height="13.50" fill="#fff"/><rect x="-31.06" y="-11.50" width="12.24" height="13.50" fill="#fff"/><rect x="-15.89" y="-11.50" width="14.40" height="13.50" fill="#fff"/><rect x="8.76" y="-11.50" width="12.24" height="13.50" fill="#fff"/><rect x="23.93" y="-11.50" width="14.40" height="13.50" fill="#fff"/><rect x="48.58" y="-11.50" width="12.24" height="13.50" fill="#fff"/></g>
<g transform="translate(2000.30,577.10) rotate(-90) scale(1,1.04)"><text x="-83.57" font-family='"Liberation Sans", Arial, sans-serif' font-weight="bold" font-size="71.6" fill="#000">(<tspan dx="1.92">1</tspan><tspan dx="-1.92">0</tspan>3)</text><rect x="-55.71" y="-11.50" width="14.40" height="13.50" fill="#fff"/><rect x="-31.06" y="-11.50" width="12.24" height="13.50" fill="#fff"/></g>
<g transform="translate(922.40,1296.35) rotate(-90) scale(1,1.04)"><text x="-83.57" font-family='"Liberation Sans", Arial, sans-serif' font-weight="bold" font-size="71.6" fill="#000">(<tspan dx="1.92">1</tspan>11<tspan dx="-1.92">)</tspan></text><rect x="-55.71" y="-11.50" width="14.40" height="13.50" fill="#fff"/><rect x="-31.06" y="-11.50" width="12.24" height="13.50" fill="#fff"/><rect x="-15.89" y="-11.50" width="14.40" height="13.50" fill="#fff"/><rect x="8.76" y="-11.50" width="12.24" height="13.50" fill="#fff"/><rect x="23.93" y="-11.50" width="14.40" height="13.50" fill="#fff"/><rect x="48.58" y="-11.50" width="12.24" height="13.50" fill="#fff"/></g>
<g transform="translate(1153.40,955.40) rotate(-90) scale(1,1.04)"><text x="-83.57" font-family='"Liberation Sans", Arial, sans-serif' font-weight="bold" font-size="71.6" fill="#000">(200)</text></g>
<g transform="translate(1571.80,1071.70) rotate(-90) scale(1,1.04)"><text x="-83.57" font-family='"Liberation Sans", Arial, sans-serif' font-weight="bold" font-size="71.6" fill="#000">(220)</text></g>
<g transform="translate(1892.10,1348.10) rotate(-90) scale(1,1.04)"><text x="-83.57" font-family='"Liberation Sans", Arial, sans-serif' font-weight="bold" font-size="71.6" fill="#000">(222)</text></g>
<g transform="translate(1993.50,1312.70) rotate(-90) scale(1,1.04)"><text x="-83.57" font-family='"Liberation Sans", Arial, sans-serif' font-weight="bold" font-size="71.6" fill="#000">(3<tspan dx="1.92">1</tspan>1<tspan dx="-1.92">)</tspan></text><rect x="-15.89" y="-11.50" width="14.40" height="13.50" fill="#fff"/><rect x="8.76" y="-11.50" width="12.24" height="13.50" fill="#fff"/><rect x="23.93" y="-11.50" width="14.40" height="13.50" fill="#fff"/><rect x="48.58" y="-11.50" width="12.24" height="13.50" fill="#fff"/></g>
<rect x="245.95" y="92.0" width="142.6" height="131.0" fill="none" stroke="#000" stroke-width="1.75"/>
<g transform="translate(260.45,190.20)"><text x="0.00" font-family='"Liberation Sans", Arial, sans-serif' font-weight="normal" font-size="93.5" fill="#000">(a)</text></g>
<rect x="245.15" y="875.3" width="142.6" height="130.6" fill="none" stroke="#000" stroke-width="1.75"/>
<g transform="translate(259.65,974.00)"><text x="0.00" font-family='"Liberation Sans", Arial, sans-serif' font-weight="normal" font-size="93.5" fill="#000">(b)</text></g>
<g transform="translate(1964.93,163.00) scale(1,1.02)"><text x="0.00" font-family='"Liberation Sans", Arial, sans-serif' font-weight="bold" font-size="68.3" fill="#0000ff">Mg(OH)</text></g>
<g transform="translate(2212.60,191.10) scale(1,1.045)"><text x="0.00" font-family='"Liberation Sans", Arial, sans-serif' font-weight="bold" font-size="40.5" fill="#0000ff">2</text></g>
<g transform="translate(1784.38,244.00) scale(1,1.05)"><text x="0.00" font-family='"Liberation Sans", Arial, sans-serif' font-weight="bold" font-size="45.0" fill="#0000ff">(JCPDS No. 86-044<tspan dx="1.21">1</tspan><tspan dx="-1.21">)</tspan></text><rect x="405.18" y="-7.23" width="9.05" height="9.23" fill="#fff"/><rect x="420.67" y="-7.23" width="7.69" height="9.23" fill="#fff"/></g>
<g transform="translate(240.37,1475.40) scale(1,1.04)"><text x="0.00" font-family='"Liberation Sans", Arial, sans-serif' font-weight="bold" font-size="69.2" fill="#ff0000">MgO</text></g>
<g transform="translate(241.67,1545.40) scale(1,1.045)"><text x="0.00" font-family='"Liberation Sans", Arial, sans-serif' font-weight="bold" font-size="44.8" fill="#ff0000">(JCPDS No. 78-0430)</text></g>
<g transform="translate(130.50,1168.29) rotate(-90) scale(1,1.025)"><text x="0.00" font-family='"Liberation Sans", Arial, sans-serif' font-weight="bold" font-size="94.1" fill="#000">Intensity, a.u.</text></g>
<text font-family='"Liberation Sans", Arial, sans-serif' font-weight="bold" font-size="90.6" fill="#000" y="1821.3"><tspan x="1024.26">2</tspan><tspan x="1073.7" font-family='"DejaVu Serif", serif' font-weight="normal" font-size="80.4">θ</tspan><tspan x="1120.25">,</tspan><tspan x="1169.78">degree</tspan></text>
</svg></body></html>
